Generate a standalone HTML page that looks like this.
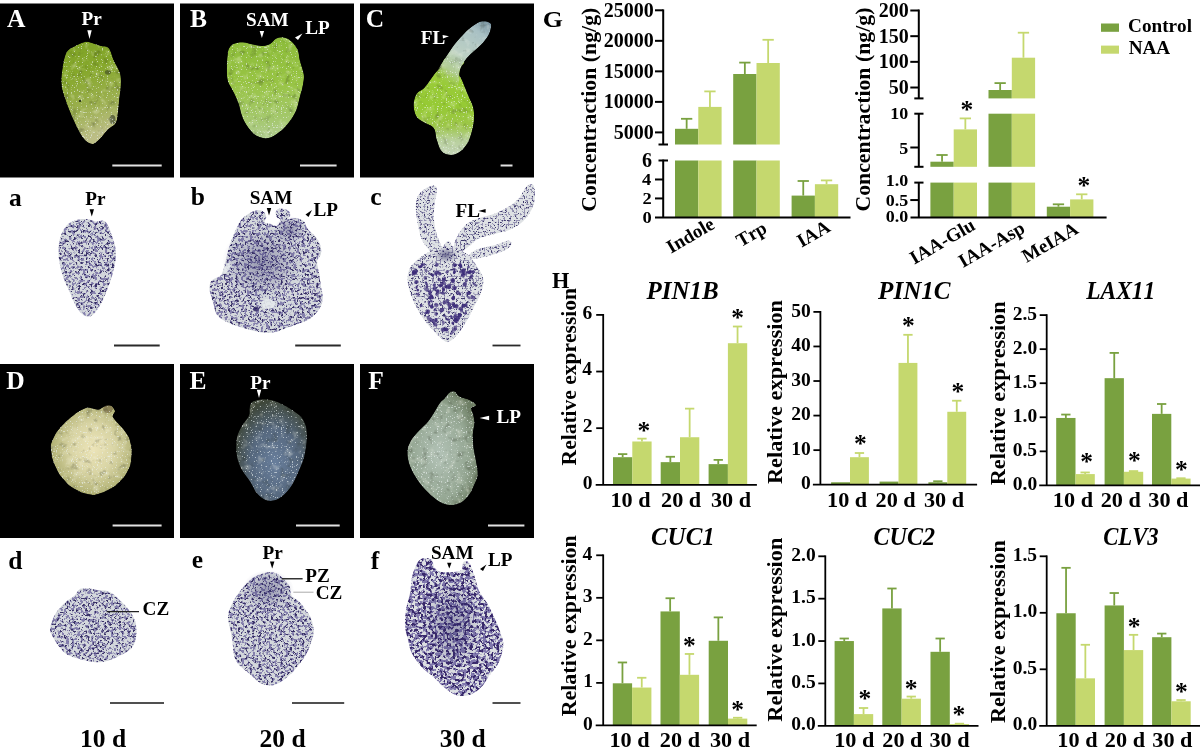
<!DOCTYPE html>
<html><head><meta charset="utf-8"><title>Figure</title>
<style>
html,body{margin:0;padding:0;background:#fff;}
body{width:1200px;height:755px;overflow:hidden;}
svg{display:block;font-family:"Liberation Serif", "Times New Roman", serif;font-weight:bold;font-kerning:none;filter:blur(0.35px);}
</style></head><body>
<svg width="1200" height="755" viewBox="0 0 1200 755">
<defs>
<linearGradient id="gA" x1="0" y1="0" x2="0.2" y2="1"><stop offset="0" stop-color="#7ea226"/><stop offset="0.35" stop-color="#86a82c"/><stop offset="0.7" stop-color="#9cb050"/><stop offset="1" stop-color="#bcbe86"/></linearGradient>
<linearGradient id="gB" x1="0" y1="0" x2="0" y2="1"><stop offset="0" stop-color="#8cbc3a"/><stop offset="0.45" stop-color="#98c444"/><stop offset="0.8" stop-color="#a4c86c"/><stop offset="1" stop-color="#b0cc90"/></linearGradient>
<linearGradient id="gC" x1="0" y1="0" x2="0" y2="1"><stop offset="0" stop-color="#9ccc3c"/><stop offset="0.5" stop-color="#96ca34"/><stop offset="0.7" stop-color="#9cc648"/><stop offset="0.85" stop-color="#b8d09c"/><stop offset="1" stop-color="#c4d4b8"/></linearGradient>
<linearGradient id="gCL" gradientUnits="userSpaceOnUse" x1="490" y1="20" x2="445" y2="86"><stop offset="0" stop-color="#6c8898"/><stop offset="0.2" stop-color="#a8c0c4"/><stop offset="0.55" stop-color="#bcd0c4"/><stop offset="0.8" stop-color="#b0cc90"/><stop offset="1" stop-color="#9cca40" stop-opacity="0"/></linearGradient>
<radialGradient id="gD" cx="0.52" cy="0.48" r="0.62"><stop offset="0" stop-color="#ece4b8"/><stop offset="0.45" stop-color="#d8d4a4"/><stop offset="0.8" stop-color="#b4b478"/><stop offset="1" stop-color="#82843e"/></radialGradient>
<radialGradient id="gE" cx="0.55" cy="0.62" r="0.62"><stop offset="0" stop-color="#687e9c"/><stop offset="0.55" stop-color="#56687e"/><stop offset="1" stop-color="#3e4638"/></radialGradient>
<radialGradient id="gF" cx="0.45" cy="0.55" r="0.6"><stop offset="0" stop-color="#b2c2b6"/><stop offset="0.7" stop-color="#94a692"/><stop offset="1" stop-color="#6e7e64"/></radialGradient>
<filter id="mottle" color-interpolation-filters="sRGB" x="0" y="0" width="1" height="1"><feTurbulence type="fractalNoise" baseFrequency="0.14" numOctaves="3" seed="2" result="n"/><feColorMatrix in="n" type="matrix" values="0 0 0 0 0.1  0 0 0 0 0.12  0 0 0 0 0.05  -0.9 0 0 0 0.38" result="shade"/><feColorMatrix in="n" type="matrix" values="0 0 0 0 1  0 0 0 0 1  0 0 0 0 0.95  0 0.9 0 0 -0.5" result="hl"/><feMerge result="m"><feMergeNode in="SourceGraphic"/><feMergeNode in="shade"/><feMergeNode in="hl"/></feMerge><feComposite in="m" in2="SourceGraphic" operator="in"/></filter>
<filter id="speck" color-interpolation-filters="sRGB" x="0" y="0" width="1" height="1"><feTurbulence type="fractalNoise" baseFrequency="0.8" numOctaves="1" seed="3"/><feColorMatrix values="0 0 0 0 0.92  0 0 0 0 0.95  0 0 0 0 0.95  14 0 0 0 -8.9"/><feComposite in2="SourceGraphic" operator="in"/></filter>
<filter id="histo" color-interpolation-filters="sRGB" x="0" y="0" width="1" height="1"><feTurbulence type="fractalNoise" baseFrequency="0.36" numOctaves="2" seed="7" result="n1"/><feColorMatrix in="n1" values="0 0 0 0 0.52  0 0 0 0 0.5  0 0 0 0 0.68  14 0 0 0 -7.140" result="m"/><feTurbulence type="fractalNoise" baseFrequency="0.42" numOctaves="2" seed="21" result="n2"/><feColorMatrix in="n2" values="0 0 0 0 0.22  0 0 0 0 0.19  0 0 0 0 0.4  14 0 0 0 -8.400" result="d"/><feFlood flood-color="#d4d8dc" result="bg"/><feMerge result="all"><feMergeNode in="bg"/><feMergeNode in="m"/><feMergeNode in="d"/></feMerge><feGaussianBlur in="all" stdDeviation="0.45" result="bl"/><feComposite in="bl" in2="SourceGraphic" operator="in"/></filter>
<filter id="histo2" color-interpolation-filters="sRGB" x="0" y="0" width="1" height="1"><feTurbulence type="fractalNoise" baseFrequency="0.3" numOctaves="2" seed="11" result="n1"/><feColorMatrix in="n1" values="0 0 0 0 0.5  0 0 0 0 0.47  0 0 0 0 0.68  14 0 0 0 -6.580" result="m"/><feTurbulence type="fractalNoise" baseFrequency="0.34" numOctaves="2" seed="23" result="n2"/><feColorMatrix in="n2" values="0 0 0 0 0.22  0 0 0 0 0.16  0 0 0 0 0.42  14 0 0 0 -7.630" result="d"/><feFlood flood-color="#dcdfe2" result="bg"/><feMerge result="all"><feMergeNode in="bg"/><feMergeNode in="m"/><feMergeNode in="d"/></feMerge><feGaussianBlur in="all" stdDeviation="0.4" result="bl"/><feComposite in="bl" in2="SourceGraphic" operator="in"/></filter>
<filter id="histo3" color-interpolation-filters="sRGB" x="0" y="0" width="1" height="1"><feTurbulence type="fractalNoise" baseFrequency="0.5" numOctaves="2" seed="5" result="n1"/><feColorMatrix in="n1" values="0 0 0 0 0.58  0 0 0 0 0.57  0 0 0 0 0.7  14 0 0 0 -7.420" result="m"/><feTurbulence type="fractalNoise" baseFrequency="0.55" numOctaves="2" seed="25" result="n2"/><feColorMatrix in="n2" values="0 0 0 0 0.24  0 0 0 0 0.22  0 0 0 0 0.42  14 0 0 0 -8.820" result="d"/><feFlood flood-color="#dee1e4" result="bg"/><feMerge result="all"><feMergeNode in="bg"/><feMergeNode in="m"/><feMergeNode in="d"/></feMerge><feGaussianBlur in="all" stdDeviation="0.35" result="bl"/><feComposite in="bl" in2="SourceGraphic" operator="in"/></filter>
</defs>
<rect x="0.00" y="3.50" width="174.00" height="174.00" fill="#000"/>
<rect x="180.00" y="3.50" width="174.00" height="174.00" fill="#000"/>
<rect x="360.00" y="3.50" width="174.00" height="174.00" fill="#000"/>
<rect x="0.00" y="364.00" width="174.00" height="174.00" fill="#000"/>
<rect x="180.00" y="364.00" width="174.00" height="174.00" fill="#000"/>
<rect x="360.00" y="364.00" width="174.00" height="174.00" fill="#000"/>
<g filter="url(#mottle)">
<path d="M88.9,41.9 C91.8,42.4 97.0,44.7 100.3,45.7 C103.6,46.7 106.4,45.5 108.7,48.0 C111.0,50.5 112.1,56.7 114.0,60.9 C115.9,65.1 118.9,69.0 120.1,73.1 C121.2,77.2 121.0,81.0 120.9,85.3 C120.8,89.6 119.8,94.2 119.3,99.0 C118.8,103.8 118.4,110.1 117.8,114.2 C117.2,118.3 117.2,120.9 115.5,123.4 C113.8,126.0 110.4,127.0 107.9,129.5 C105.4,132.0 102.7,136.2 100.3,138.6 C97.9,141.0 95.7,143.4 93.4,143.9 C91.1,144.4 88.8,143.2 86.6,141.6 C84.4,139.9 82.8,137.8 80.5,134.0 C78.2,130.2 75.5,124.6 72.9,118.8 C70.4,113.0 67.1,104.8 65.2,99.0 C63.3,93.2 61.8,89.3 61.4,83.7 C61.0,78.1 62.0,70.8 62.9,65.5 C63.8,60.2 64.9,55.0 66.8,51.8 C68.7,48.6 71.7,47.9 74.4,46.4 C77.1,44.9 80.4,43.4 82.8,42.6 C85.2,41.9 86.0,41.4 88.9,41.9 Z" fill="url(#gA)"/>
<ellipse cx="107.9" cy="72.3" rx="3" ry="2.4" fill="#2a3020" opacity="0.5"/><ellipse cx="112.5" cy="119.6" rx="3" ry="4.5" fill="#202818" opacity="0.55"/><ellipse cx="80" cy="101" rx="1.2" ry="1" fill="#202818"/>
<path d="M229.1,48.3 C230.1,46.5 231.4,44.7 233.7,43.7 C236.0,42.7 239.5,42.1 242.8,42.2 C246.1,42.3 250.2,43.9 253.5,44.5 C256.8,45.1 259.8,46.1 262.6,46.0 C265.4,45.9 268.0,45.0 270.3,43.7 C272.6,42.4 274.0,39.4 276.3,38.4 C278.6,37.4 281.4,37.1 284.0,37.6 C286.6,38.1 289.3,39.4 291.6,41.4 C293.9,43.4 296.3,46.6 297.7,49.8 C299.1,53.0 298.9,56.4 299.9,60.5 C300.9,64.6 303.3,70.2 303.8,74.2 C304.3,78.2 303.6,81.0 303.0,84.8 C302.4,88.6 301.0,92.7 299.9,97.0 C298.8,101.3 298.0,106.4 296.1,110.7 C294.2,115.0 291.3,119.4 288.5,122.9 C285.7,126.5 282.7,129.5 279.4,132.0 C276.1,134.5 272.2,137.3 268.7,138.1 C265.1,138.9 261.1,137.9 258.1,136.6 C255.1,135.3 253.1,133.6 250.5,130.5 C247.9,127.5 244.8,122.9 242.8,118.3 C240.8,113.7 240.0,107.7 238.3,103.1 C236.7,98.5 234.7,94.7 232.9,90.9 C231.1,87.1 228.6,84.6 227.6,80.3 C226.6,76.0 226.9,69.3 226.9,65.0 C226.9,60.7 227.2,57.2 227.6,54.4 C228.0,51.6 228.1,50.1 229.1,48.3 Z" fill="url(#gB)"/>
<path d="M455.0,57.0 C458.2,57.5 463.4,59.6 464.3,61.4 C465.2,63.2 461.4,65.5 460.6,67.8 C459.8,70.1 459.3,73.2 459.5,75.2 C459.7,77.2 460.5,76.6 462.0,80.0 C463.5,83.4 466.4,91.1 468.3,95.6 C470.2,100.1 472.1,103.3 473.1,107.1 C474.1,110.9 474.2,114.8 474.1,118.6 C474.0,122.4 473.2,126.3 472.2,130.2 C471.2,134.0 470.2,138.2 468.3,141.7 C466.4,145.2 463.6,149.1 460.7,151.3 C457.8,153.5 454.3,155.1 451.1,155.1 C447.9,155.1 443.9,153.9 441.5,151.3 C439.1,148.8 438.0,143.7 436.7,139.8 C435.4,136.0 435.9,131.1 433.8,128.2 C431.7,125.3 427.1,124.4 424.2,122.5 C421.3,120.6 418.3,119.6 416.5,116.7 C414.7,113.8 413.6,109.0 413.6,105.2 C413.6,101.4 414.7,96.6 416.5,93.7 C418.3,90.8 421.9,90.1 424.2,87.9 C426.4,85.7 428.1,82.8 430.0,80.3 C431.9,77.8 433.8,74.8 435.7,72.6 C437.6,70.3 440.0,69.1 441.5,66.8 C443.0,64.5 442.6,60.2 444.8,58.6 C447.1,57.0 451.8,56.5 455.0,57.0 Z" fill="url(#gC)"/>
<path d="M478.2,22.4 C480.7,21.1 482.1,21.2 484.0,21.2 C485.9,21.2 488.1,21.7 489.3,22.4 C490.5,23.1 491.2,23.3 491.2,25.2 C491.2,27.1 490.6,30.7 489.3,33.5 C488.1,36.3 485.6,39.6 483.7,41.9 C481.8,44.2 480.5,45.2 478.2,47.4 C475.9,49.6 472.1,52.6 469.8,54.9 C467.5,57.2 465.8,59.2 464.3,61.4 C462.8,63.5 461.5,65.5 460.6,67.8 C459.7,70.1 459.1,72.5 458.7,75.2 C458.3,77.9 460.1,82.2 458.0,84.0 C455.9,85.8 450.2,86.7 446.0,86.0 C441.8,85.3 434.2,82.5 432.8,79.9 C431.4,77.3 435.4,74.1 437.4,70.6 C439.4,67.0 442.3,62.5 444.8,58.6 C447.3,54.7 449.7,50.8 452.2,47.4 C454.7,44.0 456.9,41.3 459.7,38.2 C462.5,35.1 465.8,31.5 468.9,28.9 C472.0,26.3 475.7,23.7 478.2,22.4 Z" fill="url(#gCL)"/>
<path d="M88.1,407.4 C89.7,407.4 96.7,409.7 98.3,409.6 C99.9,409.5 102.8,407.1 104.1,406.7 C105.4,406.3 110.3,405.5 111.4,405.9 C112.5,406.3 114.9,409.9 115.1,411.0 C115.2,412.1 112.2,415.3 112.9,416.9 C113.6,418.5 120.0,425.1 121.6,427.1 C123.2,429.1 127.9,435.0 128.9,437.3 C129.9,439.6 131.7,447.6 131.8,450.4 C132.0,453.2 131.1,462.4 130.4,465.0 C129.7,467.6 126.0,474.6 124.5,476.6 C123.0,478.6 117.8,483.9 115.8,485.4 C113.8,486.9 106.3,490.9 104.1,491.9 C101.9,492.8 96.1,494.8 93.9,494.9 C91.7,495.0 84.8,493.6 82.3,492.7 C79.8,491.8 71.5,487.3 69.2,485.4 C66.9,483.5 60.7,476.3 59.0,473.7 C57.3,471.1 53.2,462.0 52.4,459.1 C51.6,456.2 50.5,447.2 50.9,444.6 C51.3,442.0 54.6,435.1 56.0,432.9 C57.4,430.7 62.9,424.6 64.8,422.7 C66.7,420.8 73.2,415.3 75.0,414.0 C76.8,412.7 81.0,410.3 82.3,409.6 C83.6,408.9 86.5,407.4 88.1,407.4 Z" fill="url(#gD)"/>
<ellipse cx="108" cy="409" rx="5" ry="4" fill="#7a6e48" opacity="0.7"/>
<path d="M252.0,401.9 C254.0,400.6 258.2,399.8 261.6,399.5 C265.1,399.2 269.0,399.4 272.7,400.3 C276.4,401.2 280.4,403.4 283.8,405.1 C287.2,406.8 290.5,408.7 293.4,410.7 C296.3,412.7 299.2,414.4 301.3,417.0 C303.4,419.6 305.2,422.9 306.1,426.6 C307.0,430.3 307.0,435.1 306.9,439.3 C306.8,443.5 306.0,448.3 305.3,452.0 C304.6,455.7 304.1,458.1 302.9,461.5 C301.7,464.9 300.0,468.7 298.1,472.7 C296.2,476.7 294.2,481.7 291.8,485.4 C289.4,489.1 286.7,492.4 283.8,494.9 C280.9,497.4 277.5,499.7 274.3,500.5 C271.1,501.3 267.7,500.9 264.8,499.7 C261.9,498.5 259.2,496.2 256.8,493.3 C254.4,490.4 252.8,485.9 250.4,482.2 C248.0,478.5 244.6,474.8 242.5,471.1 C240.4,467.4 238.8,464.0 237.7,460.0 C236.6,456.0 236.1,451.4 236.1,447.2 C236.1,442.9 236.6,438.2 237.7,434.5 C238.8,430.8 240.6,428.2 242.5,425.0 C244.4,421.8 247.7,418.3 248.9,415.4 C250.1,412.5 249.1,409.8 249.6,407.5 C250.1,405.2 250.0,403.2 252.0,401.9 Z" fill="url(#gE)"/>
<path d="M449.6,392.5 C451.2,391.4 452.9,390.9 454.6,391.6 C456.3,392.3 457.1,395.2 459.6,396.6 C462.1,398.0 466.8,398.5 469.5,399.9 C472.2,401.3 475.8,403.5 476.1,404.9 C476.4,406.3 471.7,406.8 471.1,408.2 C470.6,409.6 472.2,410.6 472.8,413.1 C473.4,415.6 474.5,419.5 474.5,423.1 C474.5,426.7 472.9,430.6 472.8,434.7 C472.7,438.8 473.1,443.5 473.6,447.9 C474.2,452.3 475.4,456.8 476.1,461.2 C476.8,465.6 478.1,470.5 477.8,474.4 C477.5,478.2 475.9,481.0 474.5,484.3 C473.1,487.6 471.7,491.3 469.5,494.3 C467.3,497.3 464.5,500.7 461.2,502.5 C457.9,504.3 453.5,505.3 449.6,505.0 C445.8,504.7 441.7,503.0 438.1,500.9 C434.5,498.8 431.4,495.9 428.1,492.6 C424.8,489.3 421.2,485.4 418.2,481.0 C415.2,476.6 411.7,471.1 409.9,466.1 C408.1,461.1 407.1,455.6 407.4,451.2 C407.7,446.8 409.5,443.2 411.6,439.6 C413.7,436.0 417.1,432.7 419.9,429.7 C422.6,426.7 425.6,424.4 428.1,421.4 C430.6,418.4 432.8,414.5 434.7,411.5 C436.6,408.5 438.0,405.4 439.7,403.2 C441.4,401.0 443.0,400.0 444.7,398.2 C446.4,396.4 448.0,393.6 449.6,392.5 Z" fill="url(#gF)"/>
</g>
<g filter="url(#speck)" opacity="0.6">
<path d="M88.9,41.9 C91.8,42.4 97.0,44.7 100.3,45.7 C103.6,46.7 106.4,45.5 108.7,48.0 C111.0,50.5 112.1,56.7 114.0,60.9 C115.9,65.1 118.9,69.0 120.1,73.1 C121.2,77.2 121.0,81.0 120.9,85.3 C120.8,89.6 119.8,94.2 119.3,99.0 C118.8,103.8 118.4,110.1 117.8,114.2 C117.2,118.3 117.2,120.9 115.5,123.4 C113.8,126.0 110.4,127.0 107.9,129.5 C105.4,132.0 102.7,136.2 100.3,138.6 C97.9,141.0 95.7,143.4 93.4,143.9 C91.1,144.4 88.8,143.2 86.6,141.6 C84.4,139.9 82.8,137.8 80.5,134.0 C78.2,130.2 75.5,124.6 72.9,118.8 C70.4,113.0 67.1,104.8 65.2,99.0 C63.3,93.2 61.8,89.3 61.4,83.7 C61.0,78.1 62.0,70.8 62.9,65.5 C63.8,60.2 64.9,55.0 66.8,51.8 C68.7,48.6 71.7,47.9 74.4,46.4 C77.1,44.9 80.4,43.4 82.8,42.6 C85.2,41.9 86.0,41.4 88.9,41.9 Z" fill="#fff"/>
<path d="M229.1,48.3 C230.1,46.5 231.4,44.7 233.7,43.7 C236.0,42.7 239.5,42.1 242.8,42.2 C246.1,42.3 250.2,43.9 253.5,44.5 C256.8,45.1 259.8,46.1 262.6,46.0 C265.4,45.9 268.0,45.0 270.3,43.7 C272.6,42.4 274.0,39.4 276.3,38.4 C278.6,37.4 281.4,37.1 284.0,37.6 C286.6,38.1 289.3,39.4 291.6,41.4 C293.9,43.4 296.3,46.6 297.7,49.8 C299.1,53.0 298.9,56.4 299.9,60.5 C300.9,64.6 303.3,70.2 303.8,74.2 C304.3,78.2 303.6,81.0 303.0,84.8 C302.4,88.6 301.0,92.7 299.9,97.0 C298.8,101.3 298.0,106.4 296.1,110.7 C294.2,115.0 291.3,119.4 288.5,122.9 C285.7,126.5 282.7,129.5 279.4,132.0 C276.1,134.5 272.2,137.3 268.7,138.1 C265.1,138.9 261.1,137.9 258.1,136.6 C255.1,135.3 253.1,133.6 250.5,130.5 C247.9,127.5 244.8,122.9 242.8,118.3 C240.8,113.7 240.0,107.7 238.3,103.1 C236.7,98.5 234.7,94.7 232.9,90.9 C231.1,87.1 228.6,84.6 227.6,80.3 C226.6,76.0 226.9,69.3 226.9,65.0 C226.9,60.7 227.2,57.2 227.6,54.4 C228.0,51.6 228.1,50.1 229.1,48.3 Z" fill="#fff"/>
<path d="M455.0,57.0 C458.2,57.5 463.4,59.6 464.3,61.4 C465.2,63.2 461.4,65.5 460.6,67.8 C459.8,70.1 459.3,73.2 459.5,75.2 C459.7,77.2 460.5,76.6 462.0,80.0 C463.5,83.4 466.4,91.1 468.3,95.6 C470.2,100.1 472.1,103.3 473.1,107.1 C474.1,110.9 474.2,114.8 474.1,118.6 C474.0,122.4 473.2,126.3 472.2,130.2 C471.2,134.0 470.2,138.2 468.3,141.7 C466.4,145.2 463.6,149.1 460.7,151.3 C457.8,153.5 454.3,155.1 451.1,155.1 C447.9,155.1 443.9,153.9 441.5,151.3 C439.1,148.8 438.0,143.7 436.7,139.8 C435.4,136.0 435.9,131.1 433.8,128.2 C431.7,125.3 427.1,124.4 424.2,122.5 C421.3,120.6 418.3,119.6 416.5,116.7 C414.7,113.8 413.6,109.0 413.6,105.2 C413.6,101.4 414.7,96.6 416.5,93.7 C418.3,90.8 421.9,90.1 424.2,87.9 C426.4,85.7 428.1,82.8 430.0,80.3 C431.9,77.8 433.8,74.8 435.7,72.6 C437.6,70.3 440.0,69.1 441.5,66.8 C443.0,64.5 442.6,60.2 444.8,58.6 C447.1,57.0 451.8,56.5 455.0,57.0 Z" fill="#fff"/>
<path d="M88.1,407.4 C90.8,407.4 95.6,409.7 98.3,409.6 C101.0,409.5 101.9,407.3 104.1,406.7 C106.3,406.1 109.6,405.2 111.4,405.9 C113.2,406.6 114.8,409.2 115.1,411.0 C115.3,412.8 111.8,414.2 112.9,416.9 C114.0,419.6 118.9,423.7 121.6,427.1 C124.3,430.5 127.2,433.4 128.9,437.3 C130.6,441.2 131.6,445.8 131.8,450.4 C132.1,455.0 131.6,460.6 130.4,465.0 C129.2,469.4 126.9,473.2 124.5,476.6 C122.1,480.0 119.2,482.8 115.8,485.4 C112.4,487.9 107.8,490.3 104.1,491.9 C100.4,493.5 97.5,494.8 93.9,494.9 C90.3,495.0 86.4,494.3 82.3,492.7 C78.2,491.1 73.1,488.6 69.2,485.4 C65.3,482.2 61.8,478.1 59.0,473.7 C56.2,469.3 53.8,464.0 52.4,459.1 C51.0,454.2 50.3,449.0 50.9,444.6 C51.5,440.2 53.7,436.5 56.0,432.9 C58.3,429.2 61.6,425.8 64.8,422.7 C68.0,419.6 72.1,416.2 75.0,414.0 C77.9,411.8 80.1,410.7 82.3,409.6 C84.5,408.5 85.4,407.4 88.1,407.4 Z" fill="#fff"/>
<path d="M252.0,401.9 C254.0,400.6 258.2,399.8 261.6,399.5 C265.1,399.2 269.0,399.4 272.7,400.3 C276.4,401.2 280.4,403.4 283.8,405.1 C287.2,406.8 290.5,408.7 293.4,410.7 C296.3,412.7 299.2,414.4 301.3,417.0 C303.4,419.6 305.2,422.9 306.1,426.6 C307.0,430.3 307.0,435.1 306.9,439.3 C306.8,443.5 306.0,448.3 305.3,452.0 C304.6,455.7 304.1,458.1 302.9,461.5 C301.7,464.9 300.0,468.7 298.1,472.7 C296.2,476.7 294.2,481.7 291.8,485.4 C289.4,489.1 286.7,492.4 283.8,494.9 C280.9,497.4 277.5,499.7 274.3,500.5 C271.1,501.3 267.7,500.9 264.8,499.7 C261.9,498.5 259.2,496.2 256.8,493.3 C254.4,490.4 252.8,485.9 250.4,482.2 C248.0,478.5 244.6,474.8 242.5,471.1 C240.4,467.4 238.8,464.0 237.7,460.0 C236.6,456.0 236.1,451.4 236.1,447.2 C236.1,442.9 236.6,438.2 237.7,434.5 C238.8,430.8 240.6,428.2 242.5,425.0 C244.4,421.8 247.7,418.3 248.9,415.4 C250.1,412.5 249.1,409.8 249.6,407.5 C250.1,405.2 250.0,403.2 252.0,401.9 Z" fill="#fff"/>
<path d="M449.6,392.5 C451.2,391.4 452.9,390.9 454.6,391.6 C456.3,392.3 457.1,395.2 459.6,396.6 C462.1,398.0 466.8,398.5 469.5,399.9 C472.2,401.3 475.8,403.5 476.1,404.9 C476.4,406.3 471.7,406.8 471.1,408.2 C470.6,409.6 472.2,410.6 472.8,413.1 C473.4,415.6 474.5,419.5 474.5,423.1 C474.5,426.7 472.9,430.6 472.8,434.7 C472.7,438.8 473.1,443.5 473.6,447.9 C474.2,452.3 475.4,456.8 476.1,461.2 C476.8,465.6 478.1,470.5 477.8,474.4 C477.5,478.2 475.9,481.0 474.5,484.3 C473.1,487.6 471.7,491.3 469.5,494.3 C467.3,497.3 464.5,500.7 461.2,502.5 C457.9,504.3 453.5,505.3 449.6,505.0 C445.8,504.7 441.7,503.0 438.1,500.9 C434.5,498.8 431.4,495.9 428.1,492.6 C424.8,489.3 421.2,485.4 418.2,481.0 C415.2,476.6 411.7,471.1 409.9,466.1 C408.1,461.1 407.1,455.6 407.4,451.2 C407.7,446.8 409.5,443.2 411.6,439.6 C413.7,436.0 417.1,432.7 419.9,429.7 C422.6,426.7 425.6,424.4 428.1,421.4 C430.6,418.4 432.8,414.5 434.7,411.5 C436.6,408.5 438.0,405.4 439.7,403.2 C441.4,401.0 443.0,400.0 444.7,398.2 C446.4,396.4 448.0,393.6 449.6,392.5 Z" fill="#fff"/>
</g>
<line x1="112.30" y1="165.50" x2="161.70" y2="165.50" stroke="#e2e2e2" stroke-width="2"/>
<line x1="300.00" y1="165.50" x2="336.60" y2="165.50" stroke="#e2e2e2" stroke-width="2"/>
<line x1="500.60" y1="165.50" x2="512.50" y2="165.50" stroke="#e2e2e2" stroke-width="2"/>
<line x1="112.60" y1="525.50" x2="161.60" y2="525.50" stroke="#e2e2e2" stroke-width="2"/>
<line x1="296.00" y1="525.50" x2="339.70" y2="525.50" stroke="#e2e2e2" stroke-width="2"/>
<line x1="488.00" y1="525.50" x2="524.40" y2="525.50" stroke="#e2e2e2" stroke-width="2"/>
<text transform="translate(7.20,27.40) translate(-0.25,0)" font-size="25.5" fill="#fff">A</text>
<text transform="translate(190.40,27.00) translate(-0.42,0)" font-size="25.5" fill="#fff">B</text>
<text transform="translate(367.00,27.20) translate(-1.25,0)" font-size="25.5" fill="#fff">C</text>
<text transform="translate(6.60,388.50) translate(-0.45,0)" font-size="25.5" fill="#fff">D</text>
<text transform="translate(189.90,388.60) translate(-0.44,0)" font-size="25.5" fill="#fff">E</text>
<text transform="translate(368.70,388.60) translate(-0.44,0)" font-size="25.5" fill="#fff">F</text>
<text transform="translate(81.80,24.60) translate(-0.33,0)" font-size="19.2" fill="#fff">Pr</text>
<text transform="translate(247.10,25.80) translate(-1.02,0)" font-size="19.2" fill="#fff">SAM</text>
<text transform="translate(305.60,34.10) translate(-0.33,0)" font-size="19.2" fill="#fff">LP</text>
<text transform="translate(421.20,44.10) translate(-0.33,0)" font-size="19.2" fill="#fff">FL</text>
<text transform="translate(250.70,388.60) translate(-0.33,0)" font-size="19.2" fill="#fff">Pr</text>
<text transform="translate(496.80,422.50) translate(-0.33,0)" font-size="19.2" fill="#fff">LP</text>
<polygon points="87.3,30.3 91.7,30.3 89.5,38.9" fill="#fff"/>
<polygon points="259.7,31 264.1,31 261.9,38.1" fill="#fff"/>
<polygon points="302.5,33.4 295,37.5 298,40" fill="#fff"/>
<polygon points="442.6,35 449,36.2 443,38.5" fill="#fff"/>
<polygon points="256.8,389.8 261.2,389.8 259,398.1" fill="#fff"/>
<polygon points="479.6,418 489.1,415.8 489.1,420.2" fill="#fff"/>
<g filter="url(#histo)">
<path d="M74.4,220.7 C77.5,219.7 81.5,219.0 85.1,219.1 C88.6,219.2 92.7,221.1 95.7,221.4 C98.8,221.7 101.4,220.1 103.4,220.7 C105.4,221.3 106.4,222.4 107.9,225.2 C109.4,228.0 111.2,233.6 112.5,237.4 C113.8,241.2 115.0,244.3 115.5,248.1 C116.0,251.9 115.9,256.5 115.5,260.3 C115.1,264.1 114.2,267.3 113.3,270.9 C112.4,274.4 111.6,277.5 110.2,281.6 C108.8,285.7 106.8,291.0 104.9,295.3 C103.0,299.6 101.1,304.1 98.8,307.5 C96.5,310.9 93.8,314.6 91.2,315.9 C88.7,317.2 86.0,316.8 83.5,315.1 C81.0,313.5 78.2,309.8 75.9,306.0 C73.6,302.2 71.8,296.9 69.8,292.3 C67.8,287.7 65.4,283.1 63.7,278.5 C62.1,273.9 60.8,269.6 59.9,264.8 C59.0,260.0 58.3,254.4 58.4,249.6 C58.5,244.8 59.3,240.0 60.7,235.9 C62.1,231.8 64.5,227.7 66.8,225.2 C69.1,222.7 71.4,221.7 74.4,220.7 Z" fill="#000"/>
<path d="M246.1,215.4 C248.7,213.7 252.8,211.2 255.7,210.6 C258.6,209.9 261.6,210.4 263.4,211.5 C265.1,212.6 266.0,215.5 266.2,217.3 C266.4,219.1 263.7,221.4 264.5,222.5 C265.3,223.6 268.9,223.4 271.0,224.0 C273.1,224.6 275.2,226.5 276.8,225.9 C278.4,225.3 280.6,221.6 280.6,220.2 C280.6,218.8 277.6,218.8 276.8,217.3 C276.0,215.9 275.2,212.9 275.8,211.5 C276.4,210.1 278.5,208.8 280.6,208.6 C282.7,208.4 286.7,209.5 288.3,210.6 C289.9,211.7 290.3,214.0 290.2,215.4 C290.1,216.8 286.5,218.5 287.5,219.0 C288.5,219.5 293.3,217.8 296.0,218.2 C298.7,218.5 301.8,219.3 303.7,221.1 C305.6,222.9 305.6,226.2 307.5,228.8 C309.4,231.4 313.1,233.9 315.2,236.5 C317.3,239.1 319.0,241.3 320.0,244.2 C321.0,247.1 321.5,250.9 321.0,253.8 C320.5,256.7 317.4,258.3 317.1,261.5 C316.8,264.7 318.4,268.9 319.0,273.0 C319.6,277.1 320.4,282.2 321.0,286.4 C321.6,290.5 323.2,294.0 322.9,297.9 C322.6,301.8 321.2,306.0 319.0,309.5 C316.8,313.0 313.2,316.6 309.4,319.1 C305.6,321.7 300.1,323.2 296.0,324.8 C291.9,326.4 288.3,327.4 284.5,328.7 C280.7,330.0 276.9,331.9 273.0,332.5 C269.1,333.1 265.9,333.1 261.4,332.5 C256.9,331.9 251.5,330.3 246.1,328.7 C240.7,327.1 233.6,325.1 228.8,322.9 C224.0,320.6 219.9,318.4 217.3,315.2 C214.7,312.0 214.7,307.8 213.4,303.7 C212.1,299.6 209.9,294.1 209.6,290.3 C209.3,286.5 209.6,283.3 211.5,280.7 C213.4,278.1 218.8,277.8 221.1,274.9 C223.3,272.0 223.7,267.9 225.0,263.4 C226.3,258.9 227.2,253.1 228.8,248.0 C230.4,242.9 232.7,237.1 234.6,232.6 C236.5,228.1 238.4,224.0 240.3,221.1 C242.2,218.2 243.5,217.2 246.1,215.4 Z" fill="#000"/>
<path d="M79.3,589.5 C81.5,588.3 84.7,588.2 87.7,588.3 C90.7,588.4 93.8,589.6 97.2,590.1 C100.6,590.6 104.7,590.2 107.9,591.3 C111.1,592.4 113.7,594.6 116.3,596.7 C118.9,598.8 121.0,601.2 123.4,603.8 C125.8,606.4 128.6,609.2 130.6,612.2 C132.6,615.2 134.4,618.5 135.4,621.7 C136.4,624.9 136.5,628.1 136.5,631.3 C136.5,634.5 136.4,637.8 135.4,640.8 C134.4,643.8 133.0,646.7 130.6,649.1 C128.2,651.5 124.4,653.3 121.0,655.1 C117.6,656.9 113.9,658.7 110.3,659.9 C106.7,661.1 103.4,662.0 99.6,662.2 C95.8,662.4 91.7,661.7 87.7,661.0 C83.7,660.3 79.4,659.3 75.8,658.1 C72.2,656.9 69.0,655.8 66.2,653.9 C63.4,652.0 61.3,649.5 59.1,646.7 C56.9,643.9 54.6,640.2 53.1,637.2 C51.6,634.2 49.9,632.5 50.1,628.9 C50.3,625.3 52.6,619.4 54.3,615.8 C56.0,612.2 58.3,609.8 60.3,607.4 C62.3,605.0 63.8,603.5 66.2,601.5 C68.6,599.5 72.4,597.5 74.6,595.5 C76.8,593.5 77.1,590.7 79.3,589.5 Z" fill="#000"/>
<path d="M262.9,573.4 C266.2,572.6 270.4,571.8 273.7,572.5 C277.0,573.2 279.9,575.5 282.6,577.9 C285.3,580.3 288.3,583.8 289.8,586.8 C291.3,589.8 290.0,593.4 291.5,595.8 C293.0,598.2 296.3,598.7 298.7,601.1 C301.1,603.5 303.8,607.1 305.9,610.1 C308.0,613.1 309.9,615.4 311.2,619.0 C312.5,622.6 313.9,627.6 313.9,631.5 C313.9,635.4 312.5,638.3 311.2,642.2 C309.9,646.1 308.3,650.6 305.9,654.8 C303.5,659.0 300.2,663.4 296.9,667.3 C293.6,671.2 290.1,675.0 286.2,678.0 C282.3,681.0 277.9,684.3 273.7,685.2 C269.5,686.1 265.0,685.2 261.1,683.4 C257.2,681.6 254.0,677.4 250.4,674.4 C246.8,671.4 242.4,668.5 239.7,665.5 C237.0,662.5 235.5,660.4 234.3,656.5 C233.1,652.6 233.1,646.4 232.5,642.2 C231.9,638.0 231.4,635.7 230.7,631.5 C229.9,627.3 228.0,621.4 228.0,617.2 C228.0,613.0 229.0,610.4 230.7,606.5 C232.3,602.6 235.2,597.9 237.9,594.0 C240.6,590.1 244.1,586.0 246.8,583.2 C249.5,580.4 251.3,578.6 254.0,577.0 C256.7,575.4 259.6,574.1 262.9,573.4 Z" fill="#000"/>
</g>
<g filter="url(#histo3)">
<path d="M415.8,207.0 C415.8,202.1 416.5,198.8 418.0,195.8 C419.5,192.8 422.2,190.7 424.8,189.0 C427.4,187.3 431.8,185.4 433.8,185.6 C435.9,185.8 436.9,187.3 437.1,190.1 C437.3,192.9 435.4,198.2 434.9,202.5 C434.3,206.8 433.6,211.1 433.8,216.0 C434.0,220.9 434.7,226.5 436.0,231.8 C437.3,237.1 440.9,243.9 441.6,247.6 C442.3,251.3 441.7,253.3 440.0,254.0 C438.3,254.7 434.4,254.2 431.5,252.0 C428.6,249.8 424.8,245.3 422.5,240.8 C420.2,236.3 419.1,230.6 418.0,225.0 C416.9,219.4 415.8,211.9 415.8,207.0 Z" fill="#000"/>
<path d="M456.3,238.5 C458.2,234.5 461.6,228.4 465.3,225.0 C469.1,221.6 473.9,220.2 478.8,218.3 C483.7,216.4 489.6,215.7 494.5,213.8 C499.4,211.9 503.9,209.6 508.0,207.0 C512.1,204.4 516.3,201.4 519.3,198.0 C522.3,194.6 523.8,189.1 526.0,186.8 C528.2,184.6 531.3,183.4 532.8,184.5 C534.3,185.6 535.0,189.8 535.0,193.5 C535.0,197.2 534.7,202.5 532.8,207.0 C530.9,211.5 527.5,216.8 523.8,220.5 C520.0,224.2 515.2,227.2 510.3,229.5 C505.4,231.8 499.8,232.5 494.5,234.0 C489.2,235.5 483.3,236.2 478.8,238.5 C474.3,240.8 470.5,245.3 467.5,247.6 C464.5,249.8 463.1,251.8 460.8,252.0 C458.6,252.2 454.8,251.2 454.0,249.0 C453.2,246.8 454.4,242.5 456.3,238.5 Z" fill="#000"/>
<path d="M469.8,254.3 C470.9,252.6 474.7,250.2 478.8,248.7 C482.9,247.2 489.6,246.6 494.5,245.3 C499.4,244.0 505.2,241.0 508.0,240.8 C510.8,240.6 511.8,242.7 511.4,244.2 C511.0,245.7 508.6,248.1 505.8,249.8 C503.0,251.5 498.6,253.0 494.5,254.3 C490.4,255.6 484.8,256.9 481.0,257.7 C477.2,258.4 473.9,259.4 472.0,258.8 C470.1,258.2 468.7,256.0 469.8,254.3 Z" fill="#000"/>
</g>
<g filter="url(#histo2)">
<path d="M417.9,561.9 C419.4,560.2 421.5,558.3 423.8,558.0 C426.1,557.7 430.0,558.2 431.8,559.9 C433.6,561.5 433.2,565.9 434.8,567.9 C436.4,569.9 438.6,571.2 441.7,571.9 C444.8,572.6 450.3,572.2 453.6,571.9 C456.9,571.6 460.0,571.6 461.6,569.9 C463.2,568.2 462.4,563.2 463.5,561.9 C464.6,560.6 467.0,560.6 468.5,561.9 C470.0,563.2 471.3,566.9 472.5,569.9 C473.7,572.9 474.4,576.2 475.5,579.8 C476.6,583.4 477.4,587.7 479.4,591.7 C481.4,595.7 485.1,599.6 487.4,603.6 C489.7,607.6 491.3,611.3 493.3,615.6 C495.3,619.9 497.6,624.9 499.3,629.5 C501.0,634.1 503.0,639.1 503.3,643.4 C503.6,647.7 502.3,651.7 501.3,655.3 C500.3,658.9 499.3,661.9 497.3,665.2 C495.3,668.5 492.0,671.6 489.4,675.2 C486.8,678.9 484.7,683.8 481.4,687.1 C478.1,690.4 473.8,693.7 469.5,695.0 C465.2,696.3 459.9,696.3 455.6,695.0 C451.3,693.7 447.3,690.1 443.7,687.1 C440.1,684.1 437.4,680.5 433.8,677.2 C430.2,673.9 425.5,671.2 421.8,667.2 C418.1,663.2 414.2,657.9 411.9,653.3 C409.6,648.7 409.0,644.0 407.9,639.4 C406.8,634.8 405.3,630.5 405.0,625.5 C404.7,620.5 405.2,614.9 406.0,609.6 C406.8,604.3 408.9,599.0 409.9,593.7 C410.9,588.4 411.1,582.1 411.9,577.8 C412.7,573.5 413.9,570.5 414.9,567.9 C415.9,565.2 416.4,563.5 417.9,561.9 Z" fill="#000"/>
</g>
<g filter="url(#histo3)">
<path d="M441.6,247.6 C444.0,246.1 446.3,240.8 448.4,240.8 C450.5,240.8 450.8,245.3 454.0,247.6 C457.2,249.8 463.8,251.3 467.5,254.3 C471.2,257.3 473.9,261.5 476.5,265.6 C479.1,269.7 482.6,274.6 483.3,279.1 C484.1,283.6 482.5,288.1 481.0,292.6 C479.5,297.1 476.6,301.6 474.3,306.1 C472.1,310.6 470.1,315.1 467.5,319.6 C464.9,324.1 461.7,329.4 458.5,333.1 C455.3,336.9 451.4,341.4 448.4,342.1 C445.4,342.9 443.3,339.9 440.5,337.6 C437.7,335.4 434.5,332.0 431.5,328.6 C428.5,325.2 425.5,321.9 422.5,317.4 C419.5,312.9 415.9,307.2 413.5,301.6 C411.1,296.0 408.6,288.9 407.9,283.6 C407.1,278.4 407.7,273.9 409.0,270.1 C410.3,266.4 413.2,263.7 415.8,261.1 C418.4,258.5 421.8,256.2 424.8,254.3 C427.8,252.4 431.0,250.9 433.8,249.8 C436.6,248.7 439.2,249.1 441.6,247.6 Z" fill="#000"/>
</g>
<ellipse cx="454.8" cy="316.9" rx="2.1" ry="1.5" transform="rotate(69 454.8 316.9)" fill="#3a2a78" opacity="0.69"/>
<ellipse cx="443.8" cy="280.2" rx="2.4" ry="1.8" transform="rotate(145 443.8 280.2)" fill="#3a2a78" opacity="0.78"/>
<ellipse cx="449.2" cy="304.5" rx="2.4" ry="1.7" transform="rotate(107 449.2 304.5)" fill="#3a2a78" opacity="0.82"/>
<ellipse cx="465.1" cy="273.8" rx="2.3" ry="1.5" transform="rotate(17 465.1 273.8)" fill="#3a2a78" opacity="0.66"/>
<ellipse cx="467.4" cy="272.3" rx="1.6" ry="1.1" transform="rotate(160 467.4 272.3)" fill="#3a2a78" opacity="0.79"/>
<ellipse cx="454.5" cy="271.4" rx="2.3" ry="1.1" transform="rotate(85 454.5 271.4)" fill="#3a2a78" opacity="0.92"/>
<ellipse cx="425.1" cy="277.9" rx="2.1" ry="1.6" transform="rotate(84 425.1 277.9)" fill="#3a2a78" opacity="0.68"/>
<ellipse cx="448.8" cy="312.2" rx="1.5" ry="1.3" transform="rotate(67 448.8 312.2)" fill="#3a2a78" opacity="0.77"/>
<ellipse cx="474.3" cy="284.1" rx="2.4" ry="1.3" transform="rotate(46 474.3 284.1)" fill="#3a2a78" opacity="0.73"/>
<ellipse cx="436.0" cy="274.3" rx="1.5" ry="1.4" transform="rotate(42 436.0 274.3)" fill="#3a2a78" opacity="0.79"/>
<ellipse cx="420.5" cy="266.8" rx="1.3" ry="2.1" transform="rotate(66 420.5 266.8)" fill="#3a2a78" opacity="0.93"/>
<ellipse cx="431.7" cy="306.6" rx="2.2" ry="1.8" transform="rotate(85 431.7 306.6)" fill="#3a2a78" opacity="0.93"/>
<ellipse cx="434.3" cy="284.9" rx="1.5" ry="1.8" transform="rotate(52 434.3 284.9)" fill="#3a2a78" opacity="0.85"/>
<ellipse cx="468.9" cy="297.6" rx="2.2" ry="1.3" transform="rotate(36 468.9 297.6)" fill="#3a2a78" opacity="0.66"/>
<ellipse cx="432.7" cy="297.6" rx="1.6" ry="1.2" transform="rotate(72 432.7 297.6)" fill="#3a2a78" opacity="0.94"/>
<ellipse cx="460.7" cy="266.2" rx="1.8" ry="1.4" transform="rotate(84 460.7 266.2)" fill="#3a2a78" opacity="0.73"/>
<ellipse cx="436.4" cy="304.8" rx="2.3" ry="1.9" transform="rotate(29 436.4 304.8)" fill="#3a2a78" opacity="0.72"/>
<ellipse cx="434.8" cy="288.3" rx="2.2" ry="2.1" transform="rotate(116 434.8 288.3)" fill="#3a2a78" opacity="0.78"/>
<ellipse cx="447.8" cy="319.4" rx="2.6" ry="1.1" transform="rotate(11 447.8 319.4)" fill="#3a2a78" opacity="0.88"/>
<ellipse cx="416.6" cy="287.2" rx="1.8" ry="1.1" transform="rotate(99 416.6 287.2)" fill="#3a2a78" opacity="0.95"/>
<ellipse cx="454.0" cy="329.9" rx="2.0" ry="1.5" transform="rotate(17 454.0 329.9)" fill="#3a2a78" opacity="0.67"/>
<ellipse cx="449.3" cy="285.1" rx="2.5" ry="1.6" transform="rotate(168 449.3 285.1)" fill="#3a2a78" opacity="0.67"/>
<ellipse cx="432.8" cy="275.1" rx="1.6" ry="1.2" transform="rotate(72 432.8 275.1)" fill="#3a2a78" opacity="0.67"/>
<ellipse cx="415.6" cy="273.0" rx="1.6" ry="1.5" transform="rotate(55 415.6 273.0)" fill="#3a2a78" opacity="0.67"/>
<ellipse cx="421.6" cy="265.6" rx="1.3" ry="2.2" transform="rotate(32 421.6 265.6)" fill="#3a2a78" opacity="0.80"/>
<ellipse cx="439.2" cy="279.6" rx="1.8" ry="1.7" transform="rotate(15 439.2 279.6)" fill="#3a2a78" opacity="0.74"/>
<ellipse cx="452.8" cy="323.1" rx="1.4" ry="1.7" transform="rotate(166 452.8 323.1)" fill="#3a2a78" opacity="0.83"/>
<ellipse cx="442.8" cy="293.2" rx="2.4" ry="1.3" transform="rotate(3 442.8 293.2)" fill="#3a2a78" opacity="0.81"/>
<ellipse cx="470.4" cy="271.7" rx="1.9" ry="1.7" transform="rotate(68 470.4 271.7)" fill="#3a2a78" opacity="0.84"/>
<ellipse cx="455.4" cy="320.3" rx="2.2" ry="2.1" transform="rotate(55 455.4 320.3)" fill="#3a2a78" opacity="0.78"/>
<ellipse cx="417.7" cy="294.2" rx="2.4" ry="1.3" transform="rotate(21 417.7 294.2)" fill="#3a2a78" opacity="0.74"/>
<ellipse cx="431.2" cy="295.5" rx="1.4" ry="1.9" transform="rotate(147 431.2 295.5)" fill="#3a2a78" opacity="0.74"/>
<ellipse cx="445.1" cy="316.0" rx="1.5" ry="1.2" transform="rotate(44 445.1 316.0)" fill="#3a2a78" opacity="0.68"/>
<ellipse cx="444.5" cy="283.5" rx="1.9" ry="1.7" transform="rotate(44 444.5 283.5)" fill="#3a2a78" opacity="0.67"/>
<ellipse cx="439.1" cy="272.8" rx="2.2" ry="1.2" transform="rotate(36 439.1 272.8)" fill="#3a2a78" opacity="0.74"/>
<ellipse cx="446.0" cy="287.0" rx="1.8" ry="1.2" transform="rotate(76 446.0 287.0)" fill="#3a2a78" opacity="0.74"/>
<ellipse cx="416.4" cy="282.2" rx="2.3" ry="1.7" transform="rotate(161 416.4 282.2)" fill="#3a2a78" opacity="0.85"/>
<ellipse cx="436.0" cy="320.2" rx="2.3" ry="1.7" transform="rotate(80 436.0 320.2)" fill="#3a2a78" opacity="0.90"/>
<ellipse cx="457.8" cy="318.2" rx="2.2" ry="2.2" transform="rotate(131 457.8 318.2)" fill="#3a2a78" opacity="0.86"/>
<ellipse cx="436.2" cy="314.1" rx="1.6" ry="2.0" transform="rotate(69 436.2 314.1)" fill="#3a2a78" opacity="0.69"/>
<ellipse cx="430.2" cy="297.9" rx="1.4" ry="1.3" transform="rotate(47 430.2 297.9)" fill="#3a2a78" opacity="0.85"/>
<ellipse cx="465.4" cy="313.1" rx="1.7" ry="1.2" transform="rotate(137 465.4 313.1)" fill="#3a2a78" opacity="0.82"/>
<ellipse cx="456.8" cy="305.0" rx="1.3" ry="1.2" transform="rotate(23 456.8 305.0)" fill="#3a2a78" opacity="0.76"/>
<ellipse cx="428.0" cy="311.7" rx="2.4" ry="2.1" transform="rotate(110 428.0 311.7)" fill="#3a2a78" opacity="0.72"/>
<ellipse cx="443.3" cy="322.4" rx="1.9" ry="1.5" transform="rotate(59 443.3 322.4)" fill="#3a2a78" opacity="0.65"/>
<ellipse cx="456.6" cy="321.0" rx="2.1" ry="2.0" transform="rotate(131 456.6 321.0)" fill="#3a2a78" opacity="0.68"/>
<ellipse cx="435.0" cy="309.7" rx="2.0" ry="1.3" transform="rotate(128 435.0 309.7)" fill="#3a2a78" opacity="0.78"/>
<ellipse cx="435.2" cy="324.4" rx="2.5" ry="2.0" transform="rotate(21 435.2 324.4)" fill="#3a2a78" opacity="0.75"/>
<ellipse cx="447.3" cy="301.2" rx="2.5" ry="1.6" transform="rotate(78 447.3 301.2)" fill="#3a2a78" opacity="0.78"/>
<ellipse cx="459.8" cy="315.3" rx="2.3" ry="2.1" transform="rotate(96 459.8 315.3)" fill="#3a2a78" opacity="0.94"/>
<ellipse cx="462.6" cy="274.7" rx="2.1" ry="1.2" transform="rotate(147 462.6 274.7)" fill="#3a2a78" opacity="0.78"/>
<ellipse cx="466.2" cy="305.0" rx="1.4" ry="2.2" transform="rotate(6 466.2 305.0)" fill="#3a2a78" opacity="0.82"/>
<ellipse cx="457.9" cy="293.1" rx="1.9" ry="2.1" transform="rotate(71 457.9 293.1)" fill="#3a2a78" opacity="0.71"/>
<ellipse cx="454.9" cy="319.3" rx="1.7" ry="1.3" transform="rotate(101 454.9 319.3)" fill="#3a2a78" opacity="0.76"/>
<ellipse cx="455.9" cy="315.3" rx="2.3" ry="1.4" transform="rotate(63 455.9 315.3)" fill="#3a2a78" opacity="0.72"/>
<ellipse cx="441.8" cy="310.1" rx="2.6" ry="2.0" transform="rotate(153 441.8 310.1)" fill="#3a2a78" opacity="0.84"/>
<ellipse cx="425.8" cy="312.8" rx="1.8" ry="1.3" transform="rotate(150 425.8 312.8)" fill="#3a2a78" opacity="0.80"/>
<ellipse cx="455.4" cy="265.1" rx="1.3" ry="1.3" transform="rotate(18 455.4 265.1)" fill="#3a2a78" opacity="0.87"/>
<ellipse cx="444.0" cy="278.7" rx="2.5" ry="1.3" transform="rotate(143 444.0 278.7)" fill="#3a2a78" opacity="0.75"/>
<ellipse cx="413.9" cy="271.9" rx="2.2" ry="2.0" transform="rotate(112 413.9 271.9)" fill="#3a2a78" opacity="0.89"/>
<ellipse cx="432.8" cy="275.4" rx="1.8" ry="1.1" transform="rotate(92 432.8 275.4)" fill="#3a2a78" opacity="0.83"/>
<ellipse cx="423.9" cy="264.6" rx="1.5" ry="1.5" transform="rotate(57 423.9 264.6)" fill="#3a2a78" opacity="0.66"/>
<ellipse cx="443.5" cy="290.1" rx="1.7" ry="1.5" transform="rotate(86 443.5 290.1)" fill="#3a2a78" opacity="0.86"/>
<ellipse cx="454.0" cy="305.7" rx="1.8" ry="2.2" transform="rotate(147 454.0 305.7)" fill="#3a2a78" opacity="0.93"/>
<ellipse cx="430.1" cy="292.3" rx="2.2" ry="1.8" transform="rotate(97 430.1 292.3)" fill="#3a2a78" opacity="0.89"/>
<ellipse cx="436.9" cy="264.7" rx="1.8" ry="1.8" transform="rotate(122 436.9 264.7)" fill="#3a2a78" opacity="0.81"/>
<ellipse cx="454.2" cy="269.0" rx="1.7" ry="1.2" transform="rotate(16 454.2 269.0)" fill="#3a2a78" opacity="0.76"/>
<ellipse cx="449.3" cy="287.1" rx="2.1" ry="1.9" transform="rotate(129 449.3 287.1)" fill="#3a2a78" opacity="0.74"/>
<ellipse cx="451.8" cy="332.9" rx="2.5" ry="1.4" transform="rotate(129 451.8 332.9)" fill="#3a2a78" opacity="0.67"/>
<ellipse cx="468.9" cy="293.0" rx="2.3" ry="1.8" transform="rotate(172 468.9 293.0)" fill="#3a2a78" opacity="0.92"/>
<ellipse cx="436.6" cy="272.5" rx="2.2" ry="2.0" transform="rotate(133 436.6 272.5)" fill="#3a2a78" opacity="0.83"/>
<ellipse cx="452.9" cy="303.7" rx="1.6" ry="1.7" transform="rotate(161 452.9 303.7)" fill="#3a2a78" opacity="0.72"/>
<ellipse cx="453.8" cy="288.0" rx="2.6" ry="1.7" transform="rotate(71 453.8 288.0)" fill="#3a2a78" opacity="0.65"/>
<ellipse cx="454.3" cy="272.4" rx="1.8" ry="1.3" transform="rotate(118 454.3 272.4)" fill="#3a2a78" opacity="0.92"/>
<ellipse cx="455.3" cy="328.0" rx="2.5" ry="1.8" transform="rotate(70 455.3 328.0)" fill="#3a2a78" opacity="0.68"/>
<ellipse cx="437.1" cy="293.9" rx="2.2" ry="1.7" transform="rotate(129 437.1 293.9)" fill="#3a2a78" opacity="0.76"/>
<ellipse cx="426.3" cy="283.6" rx="2.5" ry="1.3" transform="rotate(55 426.3 283.6)" fill="#3a2a78" opacity="0.73"/>
<ellipse cx="452.9" cy="281.2" rx="2.1" ry="2.1" transform="rotate(30 452.9 281.2)" fill="#3a2a78" opacity="0.84"/>
<ellipse cx="439.9" cy="285.6" rx="2.3" ry="1.3" transform="rotate(11 439.9 285.6)" fill="#3a2a78" opacity="0.82"/>
<ellipse cx="430.6" cy="297.3" rx="2.4" ry="2.1" transform="rotate(131 430.6 297.3)" fill="#3a2a78" opacity="0.78"/>
<ellipse cx="441.9" cy="283.7" rx="1.9" ry="1.7" transform="rotate(163 441.9 283.7)" fill="#3a2a78" opacity="0.74"/>
<ellipse cx="466.3" cy="280.2" rx="1.7" ry="1.8" transform="rotate(174 466.3 280.2)" fill="#3a2a78" opacity="0.71"/>
<ellipse cx="429.3" cy="273.5" rx="1.3" ry="1.2" transform="rotate(101 429.3 273.5)" fill="#3a2a78" opacity="0.83"/>
<ellipse cx="453.8" cy="297.1" rx="1.5" ry="1.3" transform="rotate(107 453.8 297.1)" fill="#3a2a78" opacity="0.84"/>
<ellipse cx="456.4" cy="306.7" rx="2.2" ry="1.9" transform="rotate(11 456.4 306.7)" fill="#3a2a78" opacity="0.80"/>
<ellipse cx="463.5" cy="270.7" rx="2.4" ry="2.2" transform="rotate(57 463.5 270.7)" fill="#3a2a78" opacity="0.91"/>
<ellipse cx="464.7" cy="284.3" rx="2.1" ry="2.1" transform="rotate(41 464.7 284.3)" fill="#3a2a78" opacity="0.86"/>
<ellipse cx="448.4" cy="286.9" rx="2.4" ry="1.6" transform="rotate(18 448.4 286.9)" fill="#3a2a78" opacity="0.71"/>
<ellipse cx="431.4" cy="301.2" rx="1.5" ry="1.2" transform="rotate(27 431.4 301.2)" fill="#3a2a78" opacity="0.83"/>
<ellipse cx="443.4" cy="288.7" rx="1.4" ry="1.9" transform="rotate(133 443.4 288.7)" fill="#3a2a78" opacity="0.89"/>
<ellipse cx="463.6" cy="305.7" rx="2.3" ry="1.9" transform="rotate(166 463.6 305.7)" fill="#3a2a78" opacity="0.94"/>
<ellipse cx="442.8" cy="329.8" rx="2.1" ry="2.2" transform="rotate(19 442.8 329.8)" fill="#3a2a78" opacity="0.68"/>
<ellipse cx="440.8" cy="304.6" rx="1.4" ry="1.3" transform="rotate(67 440.8 304.6)" fill="#3a2a78" opacity="0.79"/>
<ellipse cx="461.0" cy="308.8" rx="2.2" ry="1.9" transform="rotate(15 461.0 308.8)" fill="#3a2a78" opacity="0.77"/>
<ellipse cx="444.7" cy="329.5" rx="2.0" ry="1.5" transform="rotate(21 444.7 329.5)" fill="#3a2a78" opacity="0.83"/>
<ellipse cx="437.8" cy="291.0" rx="1.8" ry="1.9" transform="rotate(89 437.8 291.0)" fill="#3a2a78" opacity="0.94"/>
<ellipse cx="471.3" cy="276.5" rx="2.5" ry="1.2" transform="rotate(137 471.3 276.5)" fill="#3a2a78" opacity="0.87"/>
<ellipse cx="460.0" cy="294.0" rx="1.7" ry="1.2" transform="rotate(86 460.0 294.0)" fill="#3a2a78" opacity="0.76"/>
<ellipse cx="430.6" cy="319.8" rx="2.3" ry="2.1" transform="rotate(69 430.6 319.8)" fill="#3a2a78" opacity="0.74"/>
<ellipse cx="444.4" cy="302.6" rx="1.9" ry="1.9" transform="rotate(142 444.4 302.6)" fill="#3a2a78" opacity="0.82"/>
<ellipse cx="445.8" cy="286.5" rx="1.7" ry="1.5" transform="rotate(153 445.8 286.5)" fill="#3a2a78" opacity="0.81"/>
<ellipse cx="421.1" cy="305.4" rx="1.4" ry="1.6" transform="rotate(43 421.1 305.4)" fill="#3a2a78" opacity="0.85"/>
<ellipse cx="468.5" cy="267.1" rx="1.4" ry="1.4" transform="rotate(17 468.5 267.1)" fill="#3a2a78" opacity="0.79"/>
<ellipse cx="460.5" cy="265.6" rx="2.6" ry="1.7" transform="rotate(70 460.5 265.6)" fill="#3a2a78" opacity="0.93"/>
<ellipse cx="470.6" cy="278.2" rx="1.4" ry="1.5" transform="rotate(146 470.6 278.2)" fill="#3a2a78" opacity="0.65"/>
<ellipse cx="461.3" cy="272.0" rx="2.3" ry="1.5" transform="rotate(3 461.3 272.0)" fill="#3a2a78" opacity="0.73"/>
<ellipse cx="439.8" cy="273.9" rx="1.9" ry="1.5" transform="rotate(93 439.8 273.9)" fill="#3a2a78" opacity="0.67"/>
<ellipse cx="454.8" cy="265.2" rx="1.6" ry="2.2" transform="rotate(80 454.8 265.2)" fill="#3a2a78" opacity="0.79"/>
<ellipse cx="417.8" cy="290.1" rx="1.4" ry="1.4" transform="rotate(172 417.8 290.1)" fill="#3a2a78" opacity="0.86"/>
<ellipse cx="451.4" cy="316.9" rx="2.0" ry="1.2" transform="rotate(71 451.4 316.9)" fill="#3a2a78" opacity="0.88"/>
<ellipse cx="473.2" cy="271.9" rx="1.9" ry="1.8" transform="rotate(162 473.2 271.9)" fill="#3a2a78" opacity="0.84"/>
<ellipse cx="441.1" cy="285.3" rx="2.1" ry="1.1" transform="rotate(4 441.1 285.3)" fill="#3a2a78" opacity="0.88"/>
<ellipse cx="453.2" cy="298.2" rx="1.8" ry="2.1" transform="rotate(149 453.2 298.2)" fill="#3a2a78" opacity="0.92"/>
<ellipse cx="446.4" cy="329.4" rx="1.8" ry="2.2" transform="rotate(136 446.4 329.4)" fill="#3a2a78" opacity="0.92"/>
<ellipse cx="450.0" cy="307.9" rx="1.5" ry="2.0" transform="rotate(76 450.0 307.9)" fill="#3a2a78" opacity="0.94"/>
<ellipse cx="429.0" cy="302.8" rx="2.6" ry="1.3" transform="rotate(76 429.0 302.8)" fill="#3a2a78" opacity="0.73"/>
<ellipse cx="428.3" cy="317.5" rx="1.9" ry="1.4" transform="rotate(120 428.3 317.5)" fill="#3a2a78" opacity="0.69"/>
<ellipse cx="447.2" cy="271.9" rx="1.5" ry="1.6" transform="rotate(13 447.2 271.9)" fill="#3a2a78" opacity="0.76"/>
<ellipse cx="426.9" cy="289.5" rx="2.5" ry="2.1" transform="rotate(35 426.9 289.5)" fill="#3a2a78" opacity="0.66"/>
<ellipse cx="463.0" cy="275.3" rx="2.4" ry="2.2" transform="rotate(108 463.0 275.3)" fill="#3a2a78" opacity="0.69"/>
<ellipse cx="461.4" cy="310.5" rx="1.6" ry="2.1" transform="rotate(169 461.4 310.5)" fill="#3a2a78" opacity="0.66"/>
<ellipse cx="416.6" cy="271.2" rx="1.5" ry="1.6" transform="rotate(48 416.6 271.2)" fill="#3a2a78" opacity="0.88"/>
<ellipse cx="452.8" cy="279.7" rx="1.8" ry="2.0" transform="rotate(27 452.8 279.7)" fill="#3a2a78" opacity="0.81"/>
<ellipse cx="473.1" cy="297.6" rx="2.6" ry="1.9" transform="rotate(16 473.1 297.6)" fill="#3a2a78" opacity="0.68"/>
<ellipse cx="433.3" cy="320.9" rx="2.1" ry="1.5" transform="rotate(66 433.3 320.9)" fill="#3a2a78" opacity="0.79"/>
<ellipse cx="413.9" cy="273.2" rx="2.1" ry="2.2" transform="rotate(43 413.9 273.2)" fill="#3a2a78" opacity="0.82"/>
<ellipse cx="426.1" cy="270.6" rx="1.6" ry="1.7" transform="rotate(132 426.1 270.6)" fill="#3a2a78" opacity="0.69"/>
<ellipse cx="469.1" cy="272.3" rx="1.9" ry="1.9" transform="rotate(1 469.1 272.3)" fill="#3a2a78" opacity="0.88"/>
<ellipse cx="455.0" cy="288.2" rx="1.8" ry="1.7" transform="rotate(110 455.0 288.2)" fill="#3a2a78" opacity="0.89"/>
<ellipse cx="426.9" cy="286.7" rx="1.4" ry="1.7" transform="rotate(7 426.9 286.7)" fill="#3a2a78" opacity="0.77"/>
<defs><radialGradient id="dk"><stop offset="0" stop-color="#2e2a66" stop-opacity="0.38"/><stop offset="1" stop-color="#2e2a66" stop-opacity="0"/></radialGradient><radialGradient id="dk2"><stop offset="0" stop-color="#2a2660" stop-opacity="0.6"/><stop offset="1" stop-color="#2a2660" stop-opacity="0"/></radialGradient></defs>
<ellipse cx="446" cy="255" rx="12" ry="8" fill="url(#dk2)"/>
<ellipse cx="262" cy="262" rx="40" ry="36" fill="url(#dk)"/>
<ellipse cx="290" cy="230" rx="16" ry="14" fill="url(#dk)"/>
<ellipse cx="268" cy="590" rx="26" ry="20" fill="url(#dk)"/>
<ellipse cx="452" cy="625" rx="30" ry="48" fill="url(#dk)"/>
<ellipse cx="268" cy="304" rx="7" ry="5" fill="#e6eaec" opacity="0.9"/>
<ellipse cx="227" cy="268" rx="2.5" ry="6" fill="#e6eaec" opacity="0.9" transform="rotate(30 227 268)"/>
<ellipse cx="256" cy="309" rx="3" ry="2.5" fill="#2a2060" opacity="0.8"/>
<line x1="114.00" y1="345.50" x2="159.70" y2="345.50" stroke="#2a2a2a" stroke-width="1.8"/>
<line x1="295.20" y1="345.50" x2="340.80" y2="345.50" stroke="#2a2a2a" stroke-width="1.8"/>
<line x1="492.50" y1="345.50" x2="520.50" y2="345.50" stroke="#2a2a2a" stroke-width="1.8"/>
<line x1="110.00" y1="703.00" x2="164.00" y2="703.00" stroke="#505050" stroke-width="2"/>
<line x1="292.00" y1="703.00" x2="344.20" y2="703.00" stroke="#505050" stroke-width="2"/>
<line x1="492.50" y1="703.00" x2="520.50" y2="703.00" stroke="#505050" stroke-width="2"/>
<text transform="translate(9.80,206.00) translate(-0.82,0)" font-size="25.5" fill="#000">a</text>
<text transform="translate(191.10,204.70) translate(-0.32,0)" font-size="25.5" fill="#000">b</text>
<text transform="translate(371.10,205.20) translate(-0.87,0)" font-size="25.5" fill="#000">c</text>
<text transform="translate(9.30,569.20) translate(-1.03,0)" font-size="25.5" fill="#000">d</text>
<text transform="translate(192.50,568.30) translate(-0.87,0)" font-size="25.5" fill="#000">e</text>
<text transform="translate(371.00,568.50) translate(-0.19,0)" font-size="25.5" fill="#000">f</text>
<text transform="translate(85.70,204.90) translate(-0.33,0)" font-size="19.2" fill="#000">Pr</text>
<text transform="translate(250.70,203.80) translate(-1.02,0)" font-size="19.2" fill="#000">SAM</text>
<text transform="translate(313.90,216.10) translate(-0.33,0)" font-size="19.2" fill="#000">LP</text>
<text transform="translate(455.80,217.30) translate(-0.33,0)" font-size="19.2" fill="#000">FL</text>
<text transform="translate(143.50,614.80) translate(-0.94,0)" font-size="19.2" fill="#000">CZ</text>
<text transform="translate(262.90,559.20) translate(-0.33,0)" font-size="19.2" fill="#000">Pr</text>
<text transform="translate(305.50,582.40) translate(-0.33,0)" font-size="19.2" fill="#000">PZ</text>
<text transform="translate(316.60,599.20) translate(-0.94,0)" font-size="19.2" fill="#000">CZ</text>
<text transform="translate(431.90,559.20) translate(-1.02,0)" font-size="19.2" fill="#000">SAM</text>
<text transform="translate(488.40,566.40) translate(-0.33,0)" font-size="19.2" fill="#000">LP</text>
<polygon points="89.6,209.3 94,209.3 91.8,216.6" fill="#000"/>
<polygon points="266.8,208 271.2,208 269,215.5" fill="#000"/>
<polygon points="312,210 305.5,214.5 308.5,217" fill="#000"/>
<polygon points="478.4,210.9 485.6,209 485.6,212.8" fill="#000"/>
<polygon points="270,561.5 274.4,561.5 272.2,568.5" fill="#000"/>
<polygon points="447.1,562.7 451.5,562.7 449.3,568.5" fill="#000"/>
<polygon points="486.5,564.5 480,569 483,571" fill="#000"/>
<line x1="106.70" y1="611.60" x2="139.00" y2="611.60" stroke="#222" stroke-width="1.2"/>
<line x1="281.70" y1="578.80" x2="302.60" y2="578.80" stroke="#000" stroke-width="1.2"/>
<line x1="293.30" y1="592.20" x2="313.50" y2="592.20" stroke="#aaa" stroke-width="1"/>
<text transform="translate(104.00,746.60) translate(-23.91,0)" font-size="25.5" fill="#000">10 d</text>
<text transform="translate(283.00,746.60) translate(-23.42,0)" font-size="25.5" fill="#000">20 d</text>
<text transform="translate(463.00,746.60) translate(-23.36,0)" font-size="25.5" fill="#000">30 d</text>
<text transform="translate(544.00,27.00) translate(-1.27,0) scale(1.08,1.0)" font-size="24" fill="#000">G</text>
<rect x="675.00" y="128.80" width="23.30" height="15.70" fill="#79a140"/>
<rect x="698.30" y="106.90" width="23.30" height="37.60" fill="#c5d86e"/>
<line x1="686.65" y1="118.80" x2="686.65" y2="128.80" stroke="#79a140" stroke-width="1.8"/>
<line x1="681.00" y1="118.80" x2="692.30" y2="118.80" stroke="#79a140" stroke-width="1.8"/>
<line x1="709.95" y1="91.40" x2="709.95" y2="106.90" stroke="#c5d86e" stroke-width="1.8"/>
<line x1="704.30" y1="91.40" x2="715.60" y2="91.40" stroke="#c5d86e" stroke-width="1.8"/>
<rect x="675.00" y="160.50" width="23.30" height="56.90" fill="#79a140"/>
<rect x="698.30" y="160.50" width="23.30" height="56.90" fill="#c5d86e"/>
<rect x="733.20" y="74.00" width="23.30" height="70.50" fill="#79a140"/>
<rect x="756.50" y="63.00" width="23.30" height="81.50" fill="#c5d86e"/>
<line x1="744.85" y1="62.60" x2="744.85" y2="74.00" stroke="#79a140" stroke-width="1.8"/>
<line x1="739.20" y1="62.60" x2="750.50" y2="62.60" stroke="#79a140" stroke-width="1.8"/>
<line x1="768.15" y1="39.80" x2="768.15" y2="63.00" stroke="#c5d86e" stroke-width="1.8"/>
<line x1="762.50" y1="39.80" x2="773.80" y2="39.80" stroke="#c5d86e" stroke-width="1.8"/>
<rect x="733.20" y="160.50" width="23.30" height="56.90" fill="#79a140"/>
<rect x="756.50" y="160.50" width="23.30" height="56.90" fill="#c5d86e"/>
<rect x="791.60" y="195.60" width="23.30" height="21.80" fill="#79a140"/>
<rect x="814.90" y="184.20" width="23.30" height="33.20" fill="#c5d86e"/>
<line x1="803.25" y1="181.00" x2="803.25" y2="195.60" stroke="#79a140" stroke-width="1.8"/>
<line x1="797.60" y1="181.00" x2="808.90" y2="181.00" stroke="#79a140" stroke-width="1.8"/>
<line x1="826.55" y1="180.40" x2="826.55" y2="184.20" stroke="#c5d86e" stroke-width="1.8"/>
<line x1="820.90" y1="180.40" x2="832.20" y2="180.40" stroke="#c5d86e" stroke-width="1.8"/>
<line x1="663.20" y1="9.40" x2="663.20" y2="144.50" stroke="#000" stroke-width="2"/>
<line x1="663.20" y1="159.60" x2="663.20" y2="217.40" stroke="#000" stroke-width="2"/>
<line x1="655.00" y1="217.40" x2="850.50" y2="217.40" stroke="#000" stroke-width="2"/>
<line x1="655.00" y1="10.30" x2="663.20" y2="10.30" stroke="#000" stroke-width="2"/>
<text transform="translate(653.00,16.50) translate(-49.24,0)" font-size="20" fill="#000">25000</text>
<line x1="655.00" y1="40.83" x2="663.20" y2="40.83" stroke="#000" stroke-width="2"/>
<text transform="translate(653.00,47.03) translate(-49.24,0)" font-size="20" fill="#000">20000</text>
<line x1="655.00" y1="71.35" x2="663.20" y2="71.35" stroke="#000" stroke-width="2"/>
<text transform="translate(653.00,77.55) translate(-49.24,0)" font-size="20" fill="#000">15000</text>
<line x1="655.00" y1="101.88" x2="663.20" y2="101.88" stroke="#000" stroke-width="2"/>
<text transform="translate(653.00,108.08) translate(-49.24,0)" font-size="20" fill="#000">10000</text>
<line x1="655.00" y1="132.40" x2="663.20" y2="132.40" stroke="#000" stroke-width="2"/>
<text transform="translate(653.00,138.60) translate(-39.24,0)" font-size="20" fill="#000">5000</text>
<line x1="658.50" y1="144.50" x2="668.00" y2="144.50" stroke="#000" stroke-width="2"/>
<line x1="658.50" y1="160.50" x2="668.00" y2="160.50" stroke="#000" stroke-width="2"/>
<text transform="translate(651.40,166.92) translate(-9.41,0)" font-size="20" fill="#000">6</text>
<line x1="655.00" y1="179.48" x2="663.20" y2="179.48" stroke="#000" stroke-width="2"/>
<text transform="translate(651.00,185.08) translate(-8.91,0) scale(1.0,0.88)" font-size="18.5" fill="#000">4</text>
<line x1="655.00" y1="198.44" x2="663.20" y2="198.44" stroke="#000" stroke-width="2"/>
<text transform="translate(651.00,204.04) translate(-8.46,0) scale(1.0,0.88)" font-size="18.5" fill="#000">2</text>
<text transform="translate(651.00,223.00) translate(-8.55,0) scale(1.0,0.88)" font-size="18.5" fill="#000">0</text>
<text transform="translate(595.70,109.60) rotate(-90) translate(-102.08,0)" font-size="21.8" fill="#000">Concentraction (ng/g)</text>
<text transform="translate(715.50,228.00) rotate(-30) translate(-51.25,0)" font-size="19" fill="#000">Indole</text>
<text transform="translate(767.50,232.00) rotate(-30) translate(-30.90,0)" font-size="19" fill="#000">Trp</text>
<text transform="translate(831.50,230.50) rotate(-30) translate(-34.70,0)" font-size="19" fill="#000">IAA</text>
<rect x="930.40" y="161.70" width="23.30" height="5.10" fill="#79a140"/>
<rect x="953.70" y="129.40" width="23.30" height="37.40" fill="#c5d86e"/>
<line x1="942.05" y1="155.00" x2="942.05" y2="161.70" stroke="#79a140" stroke-width="1.8"/>
<line x1="936.40" y1="155.00" x2="947.70" y2="155.00" stroke="#79a140" stroke-width="1.8"/>
<line x1="965.35" y1="118.40" x2="965.35" y2="129.40" stroke="#c5d86e" stroke-width="1.8"/>
<line x1="959.70" y1="118.40" x2="971.00" y2="118.40" stroke="#c5d86e" stroke-width="1.8"/>
<rect x="930.40" y="182.60" width="23.30" height="35.00" fill="#79a140"/>
<rect x="953.70" y="182.60" width="23.30" height="35.00" fill="#c5d86e"/>
<text transform="translate(966.90,118.21) translate(-6.38,0)" font-size="25.5" fill="#000">*</text>
<rect x="988.50" y="90.00" width="23.30" height="8.40" fill="#79a140"/>
<rect x="1011.80" y="57.70" width="23.30" height="40.70" fill="#c5d86e"/>
<line x1="1000.15" y1="83.10" x2="1000.15" y2="90.00" stroke="#79a140" stroke-width="1.8"/>
<line x1="994.50" y1="83.10" x2="1005.80" y2="83.10" stroke="#79a140" stroke-width="1.8"/>
<line x1="1023.45" y1="32.70" x2="1023.45" y2="57.70" stroke="#c5d86e" stroke-width="1.8"/>
<line x1="1017.80" y1="32.70" x2="1029.10" y2="32.70" stroke="#c5d86e" stroke-width="1.8"/>
<rect x="988.50" y="113.70" width="23.30" height="53.10" fill="#79a140"/>
<rect x="1011.80" y="113.70" width="23.30" height="53.10" fill="#c5d86e"/>
<rect x="988.50" y="182.60" width="23.30" height="35.00" fill="#79a140"/>
<rect x="1011.80" y="182.60" width="23.30" height="35.00" fill="#c5d86e"/>
<rect x="1046.80" y="206.70" width="23.30" height="10.90" fill="#79a140"/>
<rect x="1070.10" y="199.40" width="23.30" height="18.20" fill="#c5d86e"/>
<line x1="1058.45" y1="204.30" x2="1058.45" y2="206.70" stroke="#79a140" stroke-width="1.8"/>
<line x1="1052.80" y1="204.30" x2="1064.10" y2="204.30" stroke="#79a140" stroke-width="1.8"/>
<line x1="1081.75" y1="194.30" x2="1081.75" y2="199.40" stroke="#c5d86e" stroke-width="1.8"/>
<line x1="1076.10" y1="194.30" x2="1087.40" y2="194.30" stroke="#c5d86e" stroke-width="1.8"/>
<text transform="translate(1083.90,194.21) translate(-6.38,0)" font-size="25.5" fill="#000">*</text>
<line x1="918.80" y1="9.50" x2="918.80" y2="98.40" stroke="#000" stroke-width="2"/>
<line x1="918.80" y1="113.70" x2="918.80" y2="166.80" stroke="#000" stroke-width="2"/>
<line x1="918.80" y1="182.60" x2="918.80" y2="217.60" stroke="#000" stroke-width="2"/>
<line x1="910.50" y1="217.60" x2="1106.60" y2="217.60" stroke="#000" stroke-width="2"/>
<line x1="910.30" y1="10.50" x2="918.80" y2="10.50" stroke="#000" stroke-width="2"/>
<text transform="translate(908.00,16.90) translate(-29.24,0)" font-size="20" fill="#000">200</text>
<line x1="910.30" y1="36.17" x2="918.80" y2="36.17" stroke="#000" stroke-width="2"/>
<text transform="translate(908.00,42.57) translate(-29.24,0)" font-size="20" fill="#000">150</text>
<line x1="910.30" y1="61.85" x2="918.80" y2="61.85" stroke="#000" stroke-width="2"/>
<text transform="translate(908.00,68.25) translate(-29.24,0)" font-size="20" fill="#000">100</text>
<line x1="910.30" y1="87.52" x2="918.80" y2="87.52" stroke="#000" stroke-width="2"/>
<text transform="translate(908.00,93.92) translate(-19.24,0)" font-size="20" fill="#000">50</text>
<line x1="914.30" y1="98.40" x2="923.50" y2="98.40" stroke="#000" stroke-width="2"/>
<line x1="914.30" y1="113.70" x2="923.50" y2="113.70" stroke="#000" stroke-width="2"/>
<text transform="translate(907.60,119.10) translate(-17.31,0) scale(1.0,0.92)" font-size="18" fill="#000">10</text>
<line x1="910.30" y1="147.50" x2="918.80" y2="147.50" stroke="#000" stroke-width="2"/>
<text transform="translate(907.60,153.70) translate(-8.34,0) scale(1.0,0.92)" font-size="18" fill="#000">5</text>
<line x1="914.30" y1="166.80" x2="923.50" y2="166.80" stroke="#000" stroke-width="2"/>
<line x1="914.30" y1="182.60" x2="923.50" y2="182.60" stroke="#000" stroke-width="2"/>
<text transform="translate(907.60,186.20) translate(-21.81,0) scale(1.0,0.92)" font-size="18" fill="#000">1.0</text>
<line x1="910.30" y1="200.05" x2="918.80" y2="200.05" stroke="#000" stroke-width="2"/>
<text transform="translate(907.60,205.85) translate(-21.84,0) scale(1.0,0.92)" font-size="18" fill="#000">0.5</text>
<text transform="translate(907.60,221.60) translate(-21.81,0) scale(1.0,0.92)" font-size="18" fill="#000">0.0</text>
<text transform="translate(869.80,109.50) rotate(-90) translate(-102.08,0)" font-size="21.8" fill="#000">Concentraction (ng/g)</text>
<text transform="translate(976.00,229.00) rotate(-30) translate(-71.28,0)" font-size="19" fill="#000">IAA-Glu</text>
<text transform="translate(1025.50,232.00) rotate(-30) translate(-72.08,0)" font-size="19" fill="#000">IAA-Asp</text>
<text transform="translate(1079.50,232.50) rotate(-30) translate(-61.06,0)" font-size="19" fill="#000">MeIAA</text>
<rect x="1101.00" y="23.50" width="18.00" height="8.30" fill="#79a140"/>
<rect x="1101.00" y="45.60" width="18.00" height="8.10" fill="#c5d86e"/>
<text transform="translate(1129.00,31.80) translate(-0.94,0)" font-size="19.2" fill="#000">Control</text>
<text transform="translate(1129.00,54.00) translate(-0.37,0)" font-size="19.2" fill="#000">NAA</text>
<text transform="translate(552.40,287.90) translate(-0.38,0)" font-size="22.3" fill="#000">H</text>
<rect x="613.00" y="457.19" width="19.30" height="27.61" fill="#79a140"/>
<rect x="632.30" y="441.48" width="19.30" height="43.32" fill="#c5d86e"/>
<line x1="622.65" y1="454.10" x2="622.65" y2="457.19" stroke="#79a140" stroke-width="1.8"/>
<line x1="618.00" y1="454.10" x2="627.30" y2="454.10" stroke="#79a140" stroke-width="1.8"/>
<line x1="641.95" y1="438.64" x2="641.95" y2="441.48" stroke="#c5d86e" stroke-width="1.8"/>
<line x1="637.30" y1="438.64" x2="646.60" y2="438.64" stroke="#c5d86e" stroke-width="1.8"/>
<text transform="translate(631.30,506.70) translate(-20.87,0) scale(1.06,1.0)" font-size="21" fill="#000">10 d</text>
<rect x="660.70" y="462.15" width="19.30" height="22.65" fill="#79a140"/>
<rect x="680.00" y="437.23" width="19.30" height="47.57" fill="#c5d86e"/>
<line x1="670.35" y1="456.77" x2="670.35" y2="462.15" stroke="#79a140" stroke-width="1.8"/>
<line x1="665.70" y1="456.77" x2="675.00" y2="456.77" stroke="#79a140" stroke-width="1.8"/>
<line x1="689.65" y1="408.63" x2="689.65" y2="437.23" stroke="#c5d86e" stroke-width="1.8"/>
<line x1="685.00" y1="408.63" x2="694.30" y2="408.63" stroke="#c5d86e" stroke-width="1.8"/>
<text transform="translate(681.50,506.70) translate(-20.44,0) scale(1.06,1.0)" font-size="21" fill="#000">20 d</text>
<rect x="708.60" y="464.13" width="19.30" height="20.67" fill="#79a140"/>
<rect x="727.90" y="343.22" width="19.30" height="141.58" fill="#c5d86e"/>
<line x1="718.25" y1="459.88" x2="718.25" y2="464.13" stroke="#79a140" stroke-width="1.8"/>
<line x1="713.60" y1="459.88" x2="722.90" y2="459.88" stroke="#79a140" stroke-width="1.8"/>
<line x1="737.55" y1="326.51" x2="737.55" y2="343.22" stroke="#c5d86e" stroke-width="1.8"/>
<line x1="732.90" y1="326.51" x2="742.20" y2="326.51" stroke="#c5d86e" stroke-width="1.8"/>
<text transform="translate(731.30,506.70) translate(-20.40,0) scale(1.06,1.0)" font-size="21" fill="#000">30 d</text>
<text transform="translate(643.90,438.81) translate(-6.38,0)" font-size="25.5" fill="#000">*</text>
<text transform="translate(737.70,326.31) translate(-6.38,0)" font-size="25.5" fill="#000">*</text>
<line x1="603.20" y1="314.00" x2="603.20" y2="484.80" stroke="#000" stroke-width="1.8"/>
<line x1="595.70" y1="484.80" x2="756.90" y2="484.80" stroke="#000" stroke-width="1.8"/>
<text transform="translate(591.70,488.60) translate(-9.01,0)" font-size="19.5" fill="#000">0</text>
<line x1="596.20" y1="428.17" x2="603.20" y2="428.17" stroke="#000" stroke-width="1.8"/>
<text transform="translate(591.70,431.97) translate(-8.91,0)" font-size="19.5" fill="#000">2</text>
<line x1="596.20" y1="371.53" x2="603.20" y2="371.53" stroke="#000" stroke-width="1.8"/>
<text transform="translate(591.70,375.33) translate(-9.39,0)" font-size="19.5" fill="#000">4</text>
<line x1="596.20" y1="314.90" x2="603.20" y2="314.90" stroke="#000" stroke-width="1.8"/>
<text transform="translate(591.70,318.70) translate(-9.18,0)" font-size="19.5" fill="#000">6</text>
<text transform="translate(682.20,299.10) translate(-35.67,0) scale(1.021,1.0)" font-size="24.5" font-style="italic" fill="#000">PIN1B</text>
<text transform="translate(576.20,376.70) rotate(-90) translate(-88.69,0)" font-size="21.5" fill="#000">Relative expression</text>
<rect x="831.10" y="482.28" width="18.90" height="2.42" fill="#79a140"/>
<rect x="850.00" y="457.19" width="18.90" height="27.51" fill="#c5d86e"/>
<line x1="859.45" y1="453.01" x2="859.45" y2="457.19" stroke="#c5d86e" stroke-width="1.8"/>
<line x1="854.80" y1="453.01" x2="864.10" y2="453.01" stroke="#c5d86e" stroke-width="1.8"/>
<text transform="translate(847.90,506.70) translate(-20.87,0) scale(1.06,1.0)" font-size="21" fill="#000">10 d</text>
<rect x="879.60" y="481.59" width="18.90" height="3.11" fill="#79a140"/>
<rect x="898.50" y="362.91" width="18.90" height="121.79" fill="#c5d86e"/>
<line x1="907.95" y1="334.81" x2="907.95" y2="362.91" stroke="#c5d86e" stroke-width="1.8"/>
<line x1="903.30" y1="334.81" x2="912.60" y2="334.81" stroke="#c5d86e" stroke-width="1.8"/>
<text transform="translate(896.00,506.70) translate(-20.44,0) scale(1.06,1.0)" font-size="21" fill="#000">20 d</text>
<rect x="928.40" y="482.28" width="18.90" height="2.42" fill="#79a140"/>
<rect x="947.30" y="411.78" width="18.90" height="72.92" fill="#c5d86e"/>
<line x1="937.85" y1="481.24" x2="937.85" y2="482.28" stroke="#79a140" stroke-width="1.8"/>
<line x1="933.20" y1="481.24" x2="942.50" y2="481.24" stroke="#79a140" stroke-width="1.8"/>
<line x1="956.75" y1="400.72" x2="956.75" y2="411.78" stroke="#c5d86e" stroke-width="1.8"/>
<line x1="952.10" y1="400.72" x2="961.40" y2="400.72" stroke="#c5d86e" stroke-width="1.8"/>
<text transform="translate(944.30,506.70) translate(-20.40,0) scale(1.06,1.0)" font-size="21" fill="#000">30 d</text>
<text transform="translate(860.50,451.71) translate(-6.38,0)" font-size="25.5" fill="#000">*</text>
<text transform="translate(908.40,334.21) translate(-6.38,0)" font-size="25.5" fill="#000">*</text>
<text transform="translate(957.90,399.91) translate(-6.38,0)" font-size="25.5" fill="#000">*</text>
<line x1="820.40" y1="311.00" x2="820.40" y2="484.70" stroke="#000" stroke-width="1.8"/>
<line x1="812.90" y1="484.70" x2="977.10" y2="484.70" stroke="#000" stroke-width="1.8"/>
<text transform="translate(810.10,489.30) translate(-9.01,0)" font-size="19.5" fill="#000">0</text>
<line x1="813.40" y1="450.14" x2="820.40" y2="450.14" stroke="#000" stroke-width="1.8"/>
<text transform="translate(810.10,454.74) translate(-18.76,0)" font-size="19.5" fill="#000">10</text>
<line x1="813.40" y1="415.58" x2="820.40" y2="415.58" stroke="#000" stroke-width="1.8"/>
<text transform="translate(810.10,420.18) translate(-18.76,0)" font-size="19.5" fill="#000">20</text>
<line x1="813.40" y1="381.02" x2="820.40" y2="381.02" stroke="#000" stroke-width="1.8"/>
<text transform="translate(810.10,385.62) translate(-18.76,0)" font-size="19.5" fill="#000">30</text>
<line x1="813.40" y1="346.46" x2="820.40" y2="346.46" stroke="#000" stroke-width="1.8"/>
<text transform="translate(810.10,351.06) translate(-18.76,0)" font-size="19.5" fill="#000">40</text>
<line x1="813.40" y1="311.90" x2="820.40" y2="311.90" stroke="#000" stroke-width="1.8"/>
<text transform="translate(810.10,316.50) translate(-18.76,0)" font-size="19.5" fill="#000">50</text>
<text transform="translate(914.45,299.10) translate(-36.42,0) scale(1.026,1.0)" font-size="24.5" font-style="italic" fill="#000">PIN1C</text>
<text transform="translate(782.30,392.00) rotate(-90) translate(-92.06,0) scale(1.038,1.0)" font-size="21.5" fill="#000">Relative expression</text>
<rect x="1056.20" y="417.96" width="19.30" height="67.44" fill="#79a140"/>
<rect x="1075.50" y="474.09" width="19.30" height="11.31" fill="#c5d86e"/>
<line x1="1065.85" y1="414.56" x2="1065.85" y2="417.96" stroke="#79a140" stroke-width="1.8"/>
<line x1="1061.20" y1="414.56" x2="1070.50" y2="414.56" stroke="#79a140" stroke-width="1.8"/>
<line x1="1085.15" y1="472.46" x2="1085.15" y2="474.09" stroke="#c5d86e" stroke-width="1.8"/>
<line x1="1080.50" y1="472.46" x2="1089.80" y2="472.46" stroke="#c5d86e" stroke-width="1.8"/>
<text transform="translate(1073.70,506.70) translate(-20.87,0) scale(1.06,1.0)" font-size="21" fill="#000">10 d</text>
<rect x="1104.60" y="378.18" width="19.30" height="107.22" fill="#79a140"/>
<rect x="1123.90" y="471.78" width="19.30" height="13.62" fill="#c5d86e"/>
<line x1="1114.25" y1="352.91" x2="1114.25" y2="378.18" stroke="#79a140" stroke-width="1.8"/>
<line x1="1109.60" y1="352.91" x2="1118.90" y2="352.91" stroke="#79a140" stroke-width="1.8"/>
<line x1="1133.55" y1="471.09" x2="1133.55" y2="471.78" stroke="#c5d86e" stroke-width="1.8"/>
<line x1="1128.90" y1="471.09" x2="1138.20" y2="471.09" stroke="#c5d86e" stroke-width="1.8"/>
<text transform="translate(1121.10,506.70) translate(-20.44,0) scale(1.06,1.0)" font-size="21" fill="#000">20 d</text>
<rect x="1152.00" y="413.87" width="19.30" height="71.53" fill="#79a140"/>
<rect x="1171.30" y="478.59" width="19.30" height="6.81" fill="#c5d86e"/>
<line x1="1161.65" y1="404.00" x2="1161.65" y2="413.87" stroke="#79a140" stroke-width="1.8"/>
<line x1="1157.00" y1="404.00" x2="1166.30" y2="404.00" stroke="#79a140" stroke-width="1.8"/>
<line x1="1180.95" y1="478.25" x2="1180.95" y2="478.59" stroke="#c5d86e" stroke-width="1.8"/>
<line x1="1176.30" y1="478.25" x2="1185.60" y2="478.25" stroke="#c5d86e" stroke-width="1.8"/>
<text transform="translate(1168.70,506.70) translate(-20.40,0) scale(1.06,1.0)" font-size="21" fill="#000">30 d</text>
<text transform="translate(1086.60,469.81) translate(-6.38,0)" font-size="25.5" fill="#000">*</text>
<text transform="translate(1134.50,468.71) translate(-6.38,0)" font-size="25.5" fill="#000">*</text>
<text transform="translate(1181.30,477.71) translate(-6.38,0)" font-size="25.5" fill="#000">*</text>
<line x1="1046.70" y1="314.20" x2="1046.70" y2="485.40" stroke="#000" stroke-width="1.8"/>
<line x1="1039.20" y1="485.40" x2="1200.00" y2="485.40" stroke="#000" stroke-width="1.8"/>
<text transform="translate(1036.40,490.00) translate(-23.63,0)" font-size="19.5" fill="#000">0.0</text>
<line x1="1039.70" y1="451.34" x2="1046.70" y2="451.34" stroke="#000" stroke-width="1.8"/>
<text transform="translate(1036.40,455.94) translate(-23.66,0)" font-size="19.5" fill="#000">0.5</text>
<line x1="1039.70" y1="417.28" x2="1046.70" y2="417.28" stroke="#000" stroke-width="1.8"/>
<text transform="translate(1036.40,421.88) translate(-23.63,0)" font-size="19.5" fill="#000">1.0</text>
<line x1="1039.70" y1="383.22" x2="1046.70" y2="383.22" stroke="#000" stroke-width="1.8"/>
<text transform="translate(1036.40,387.82) translate(-23.66,0)" font-size="19.5" fill="#000">1.5</text>
<line x1="1039.70" y1="349.16" x2="1046.70" y2="349.16" stroke="#000" stroke-width="1.8"/>
<text transform="translate(1036.40,353.76) translate(-23.63,0)" font-size="19.5" fill="#000">2.0</text>
<line x1="1039.70" y1="315.10" x2="1046.70" y2="315.10" stroke="#000" stroke-width="1.8"/>
<text transform="translate(1036.40,319.70) translate(-23.66,0)" font-size="19.5" fill="#000">2.5</text>
<text transform="translate(1119.45,299.10) translate(-33.29,0) scale(0.958,1.0)" font-size="24.5" font-style="italic" fill="#000">LAX11</text>
<text transform="translate(1004.60,393.30) rotate(-90) translate(-92.06,0) scale(1.038,1.0)" font-size="21.5" fill="#000">Relative expression</text>
<rect x="612.80" y="683.30" width="19.30" height="42.10" fill="#79a140"/>
<rect x="632.10" y="687.55" width="19.30" height="37.85" fill="#c5d86e"/>
<line x1="622.45" y1="662.46" x2="622.45" y2="683.30" stroke="#79a140" stroke-width="1.8"/>
<line x1="617.80" y1="662.46" x2="627.10" y2="662.46" stroke="#79a140" stroke-width="1.8"/>
<line x1="641.75" y1="677.77" x2="641.75" y2="687.55" stroke="#c5d86e" stroke-width="1.8"/>
<line x1="637.10" y1="677.77" x2="646.40" y2="677.77" stroke="#c5d86e" stroke-width="1.8"/>
<text transform="translate(630.30,747.30) translate(-20.87,0) scale(1.06,1.0)" font-size="21" fill="#000">10 d</text>
<rect x="660.50" y="611.43" width="19.30" height="113.97" fill="#79a140"/>
<rect x="679.80" y="674.80" width="19.30" height="50.60" fill="#c5d86e"/>
<line x1="670.15" y1="598.25" x2="670.15" y2="611.43" stroke="#79a140" stroke-width="1.8"/>
<line x1="665.50" y1="598.25" x2="674.80" y2="598.25" stroke="#79a140" stroke-width="1.8"/>
<line x1="689.45" y1="653.96" x2="689.45" y2="674.80" stroke="#c5d86e" stroke-width="1.8"/>
<line x1="684.80" y1="653.96" x2="694.10" y2="653.96" stroke="#c5d86e" stroke-width="1.8"/>
<text transform="translate(680.30,747.30) translate(-20.44,0) scale(1.06,1.0)" font-size="21" fill="#000">20 d</text>
<rect x="708.70" y="640.78" width="19.30" height="84.62" fill="#79a140"/>
<rect x="728.00" y="718.60" width="19.30" height="6.80" fill="#c5d86e"/>
<line x1="718.35" y1="617.39" x2="718.35" y2="640.78" stroke="#79a140" stroke-width="1.8"/>
<line x1="713.70" y1="617.39" x2="723.00" y2="617.39" stroke="#79a140" stroke-width="1.8"/>
<line x1="737.65" y1="717.75" x2="737.65" y2="718.60" stroke="#c5d86e" stroke-width="1.8"/>
<line x1="733.00" y1="717.75" x2="742.30" y2="717.75" stroke="#c5d86e" stroke-width="1.8"/>
<text transform="translate(730.30,747.30) translate(-20.40,0) scale(1.06,1.0)" font-size="21" fill="#000">30 d</text>
<text transform="translate(689.30,653.81) translate(-6.38,0)" font-size="25.5" fill="#000">*</text>
<text transform="translate(737.70,718.41) translate(-6.38,0)" font-size="25.5" fill="#000">*</text>
<line x1="603.20" y1="554.40" x2="603.20" y2="725.40" stroke="#000" stroke-width="1.8"/>
<line x1="595.70" y1="725.40" x2="756.70" y2="725.40" stroke="#000" stroke-width="1.8"/>
<text transform="translate(591.90,730.00) translate(-9.01,0)" font-size="19.5" fill="#000">0</text>
<line x1="596.20" y1="682.88" x2="603.20" y2="682.88" stroke="#000" stroke-width="1.8"/>
<text transform="translate(591.90,687.48) translate(-8.74,0)" font-size="19.5" fill="#000">1</text>
<line x1="596.20" y1="640.35" x2="603.20" y2="640.35" stroke="#000" stroke-width="1.8"/>
<text transform="translate(591.90,644.95) translate(-8.91,0)" font-size="19.5" fill="#000">2</text>
<line x1="596.20" y1="597.82" x2="603.20" y2="597.82" stroke="#000" stroke-width="1.8"/>
<text transform="translate(591.90,602.42) translate(-9.08,0)" font-size="19.5" fill="#000">3</text>
<line x1="596.20" y1="555.30" x2="603.20" y2="555.30" stroke="#000" stroke-width="1.8"/>
<text transform="translate(591.90,559.90) translate(-9.39,0)" font-size="19.5" fill="#000">4</text>
<text transform="translate(682.05,545.30) translate(-31.10,0) scale(1.02,1.0)" font-size="24.5" font-style="italic" fill="#000">CUC1</text>
<text transform="translate(576.20,625.70) rotate(-90) translate(-90.64,0) scale(1.022,1.0)" font-size="21.5" fill="#000">Relative expression</text>
<rect x="834.60" y="641.05" width="19.30" height="84.75" fill="#79a140"/>
<rect x="853.90" y="714.10" width="19.30" height="11.70" fill="#c5d86e"/>
<line x1="844.25" y1="638.51" x2="844.25" y2="641.05" stroke="#79a140" stroke-width="1.8"/>
<line x1="839.60" y1="638.51" x2="848.90" y2="638.51" stroke="#79a140" stroke-width="1.8"/>
<line x1="863.55" y1="708.00" x2="863.55" y2="714.10" stroke="#c5d86e" stroke-width="1.8"/>
<line x1="858.90" y1="708.00" x2="868.20" y2="708.00" stroke="#c5d86e" stroke-width="1.8"/>
<text transform="translate(855.00,747.30) translate(-20.87,0) scale(1.06,1.0)" font-size="21" fill="#000">10 d</text>
<rect x="882.30" y="608.42" width="19.30" height="117.38" fill="#79a140"/>
<rect x="901.60" y="698.68" width="19.30" height="27.12" fill="#c5d86e"/>
<line x1="891.95" y1="588.50" x2="891.95" y2="608.42" stroke="#79a140" stroke-width="1.8"/>
<line x1="887.30" y1="588.50" x2="896.60" y2="588.50" stroke="#79a140" stroke-width="1.8"/>
<line x1="911.25" y1="696.56" x2="911.25" y2="698.68" stroke="#c5d86e" stroke-width="1.8"/>
<line x1="906.60" y1="696.56" x2="915.90" y2="696.56" stroke="#c5d86e" stroke-width="1.8"/>
<text transform="translate(902.70,747.30) translate(-20.44,0) scale(1.06,1.0)" font-size="21" fill="#000">20 d</text>
<rect x="930.50" y="651.81" width="19.30" height="73.99" fill="#79a140"/>
<rect x="949.80" y="724.10" width="19.30" height="1.70" fill="#c5d86e"/>
<line x1="940.15" y1="638.51" x2="940.15" y2="651.81" stroke="#79a140" stroke-width="1.8"/>
<line x1="935.50" y1="638.51" x2="944.80" y2="638.51" stroke="#79a140" stroke-width="1.8"/>
<line x1="959.45" y1="723.68" x2="959.45" y2="724.10" stroke="#c5d86e" stroke-width="1.8"/>
<line x1="954.80" y1="723.68" x2="964.10" y2="723.68" stroke="#c5d86e" stroke-width="1.8"/>
<text transform="translate(949.90,747.30) translate(-20.40,0) scale(1.06,1.0)" font-size="21" fill="#000">30 d</text>
<text transform="translate(865.00,707.21) translate(-6.38,0)" font-size="25.5" fill="#000">*</text>
<text transform="translate(911.10,696.61) translate(-6.38,0)" font-size="25.5" fill="#000">*</text>
<text transform="translate(958.80,722.51) translate(-6.38,0)" font-size="25.5" fill="#000">*</text>
<line x1="825.30" y1="555.40" x2="825.30" y2="725.80" stroke="#000" stroke-width="1.8"/>
<line x1="817.80" y1="725.80" x2="978.50" y2="725.80" stroke="#000" stroke-width="1.8"/>
<text transform="translate(815.00,730.40) translate(-23.63,0)" font-size="19.5" fill="#000">0.0</text>
<line x1="818.30" y1="683.42" x2="825.30" y2="683.42" stroke="#000" stroke-width="1.8"/>
<text transform="translate(815.00,688.02) translate(-23.66,0)" font-size="19.5" fill="#000">0.5</text>
<line x1="818.30" y1="641.05" x2="825.30" y2="641.05" stroke="#000" stroke-width="1.8"/>
<text transform="translate(815.00,645.65) translate(-23.63,0)" font-size="19.5" fill="#000">1.0</text>
<line x1="818.30" y1="598.67" x2="825.30" y2="598.67" stroke="#000" stroke-width="1.8"/>
<text transform="translate(815.00,603.27) translate(-23.66,0)" font-size="19.5" fill="#000">1.5</text>
<line x1="818.30" y1="556.30" x2="825.30" y2="556.30" stroke="#000" stroke-width="1.8"/>
<text transform="translate(815.00,560.90) translate(-23.63,0)" font-size="19.5" fill="#000">2.0</text>
<text transform="translate(904.45,545.30) translate(-30.88,0) scale(0.982,1.0)" font-size="24.5" font-style="italic" fill="#000">CUC2</text>
<text transform="translate(782.30,629.60) rotate(-90) translate(-92.06,0) scale(1.038,1.0)" font-size="21.5" fill="#000">Relative expression</text>
<rect x="1056.40" y="613.25" width="19.30" height="112.55" fill="#79a140"/>
<rect x="1075.70" y="678.34" width="19.30" height="47.46" fill="#c5d86e"/>
<line x1="1066.05" y1="567.83" x2="1066.05" y2="613.25" stroke="#79a140" stroke-width="1.8"/>
<line x1="1061.40" y1="567.83" x2="1070.70" y2="567.83" stroke="#79a140" stroke-width="1.8"/>
<line x1="1085.35" y1="644.78" x2="1085.35" y2="678.34" stroke="#c5d86e" stroke-width="1.8"/>
<line x1="1080.70" y1="644.78" x2="1090.00" y2="644.78" stroke="#c5d86e" stroke-width="1.8"/>
<text transform="translate(1078.20,747.30) translate(-20.87,0) scale(1.06,1.0)" font-size="21" fill="#000">10 d</text>
<rect x="1104.60" y="605.45" width="19.30" height="120.35" fill="#79a140"/>
<rect x="1123.90" y="650.09" width="19.30" height="75.71" fill="#c5d86e"/>
<line x1="1114.25" y1="593.02" x2="1114.25" y2="605.45" stroke="#79a140" stroke-width="1.8"/>
<line x1="1109.60" y1="593.02" x2="1118.90" y2="593.02" stroke="#79a140" stroke-width="1.8"/>
<line x1="1133.55" y1="634.83" x2="1133.55" y2="650.09" stroke="#c5d86e" stroke-width="1.8"/>
<line x1="1128.90" y1="634.83" x2="1138.20" y2="634.83" stroke="#c5d86e" stroke-width="1.8"/>
<text transform="translate(1125.30,747.30) translate(-20.44,0) scale(1.06,1.0)" font-size="21" fill="#000">20 d</text>
<rect x="1152.10" y="637.21" width="19.30" height="88.59" fill="#79a140"/>
<rect x="1171.40" y="701.28" width="19.30" height="24.52" fill="#c5d86e"/>
<line x1="1161.75" y1="633.59" x2="1161.75" y2="637.21" stroke="#79a140" stroke-width="1.8"/>
<line x1="1157.10" y1="633.59" x2="1166.40" y2="633.59" stroke="#79a140" stroke-width="1.8"/>
<line x1="1181.05" y1="700.04" x2="1181.05" y2="701.28" stroke="#c5d86e" stroke-width="1.8"/>
<line x1="1176.40" y1="700.04" x2="1185.70" y2="700.04" stroke="#c5d86e" stroke-width="1.8"/>
<text transform="translate(1172.70,747.30) translate(-20.40,0) scale(1.06,1.0)" font-size="21" fill="#000">30 d</text>
<text transform="translate(1134.10,634.71) translate(-6.38,0)" font-size="25.5" fill="#000">*</text>
<text transform="translate(1181.30,700.01) translate(-6.38,0)" font-size="25.5" fill="#000">*</text>
<line x1="1046.70" y1="555.40" x2="1046.70" y2="725.80" stroke="#000" stroke-width="1.8"/>
<line x1="1039.20" y1="725.80" x2="1200.00" y2="725.80" stroke="#000" stroke-width="1.8"/>
<text transform="translate(1036.40,730.40) translate(-23.63,0)" font-size="19.5" fill="#000">0.0</text>
<line x1="1039.70" y1="669.30" x2="1046.70" y2="669.30" stroke="#000" stroke-width="1.8"/>
<text transform="translate(1036.40,673.90) translate(-23.66,0)" font-size="19.5" fill="#000">0.5</text>
<line x1="1039.70" y1="612.80" x2="1046.70" y2="612.80" stroke="#000" stroke-width="1.8"/>
<text transform="translate(1036.40,617.40) translate(-23.63,0)" font-size="19.5" fill="#000">1.0</text>
<line x1="1039.70" y1="556.30" x2="1046.70" y2="556.30" stroke="#000" stroke-width="1.8"/>
<text transform="translate(1036.40,560.90) translate(-23.66,0)" font-size="19.5" fill="#000">1.5</text>
<text transform="translate(1131.05,545.30) translate(-27.82,0) scale(0.926,1.0)" font-size="24.5" font-style="italic" fill="#000">CLV3</text>
<text transform="translate(1004.60,631.60) rotate(-90) translate(-91.44,0) scale(1.031,1.0)" font-size="21.5" fill="#000">Relative expression</text>
</svg>
</body></html>
